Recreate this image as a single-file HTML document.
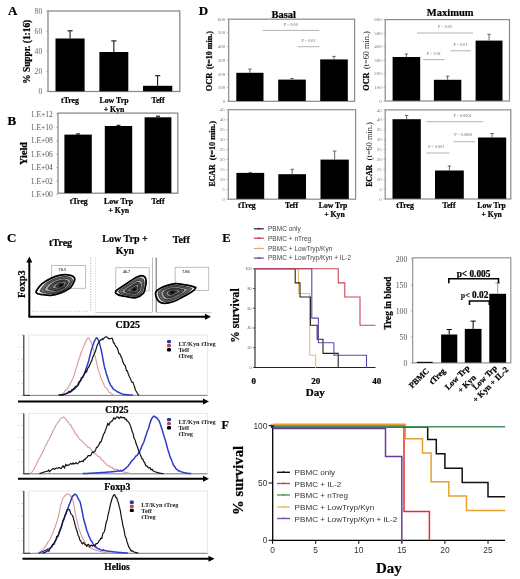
<!DOCTYPE html>
<html><head><meta charset="utf-8"><style>
html,body{margin:0;padding:0;background:#fff;}
svg{display:block;filter:blur(0.4px);}
</style></head><body>
<svg width="520" height="579" viewBox="0 0 520 579">
<rect x="0" y="0" width="520" height="579" fill="#fff"/>
<text x="12.7" y="15.4" font-size="13" text-anchor="middle" font-weight="bold" font-family='"Liberation Serif", serif' fill="#000" stroke="#000" stroke-width="0.22">A</text>
<rect x="48" y="11" width="131.8" height="80.5" fill="none" stroke="#8a8a8a" stroke-width="1.3"/>
<line x1="46.4" y1="11.0" x2="48" y2="11.0" stroke="#999" stroke-width="0.8"/>
<line x1="46.4" y1="31.1" x2="48" y2="31.1" stroke="#999" stroke-width="0.8"/>
<line x1="46.4" y1="51.2" x2="48" y2="51.2" stroke="#999" stroke-width="0.8"/>
<line x1="46.4" y1="71.30000000000001" x2="48" y2="71.30000000000001" stroke="#999" stroke-width="0.8"/>
<line x1="46.4" y1="91.4" x2="48" y2="91.4" stroke="#999" stroke-width="0.8"/>
<text x="42.2" y="13.5" font-size="7.6" text-anchor="end" font-weight="normal" font-family='"Liberation Serif", serif' fill="#666">80</text>
<text x="42.2" y="33.6" font-size="7.6" text-anchor="end" font-weight="normal" font-family='"Liberation Serif", serif' fill="#666">60</text>
<text x="42.2" y="53.7" font-size="7.6" text-anchor="end" font-weight="normal" font-family='"Liberation Serif", serif' fill="#666">40</text>
<text x="42.2" y="73.80000000000001" font-size="7.6" text-anchor="end" font-weight="normal" font-family='"Liberation Serif", serif' fill="#666">20</text>
<text x="42.2" y="93.9" font-size="7.6" text-anchor="end" font-weight="normal" font-family='"Liberation Serif", serif' fill="#666">0</text>
<text x="30.5" y="51.8" font-size="9.4" text-anchor="middle" font-weight="bold" font-family='"Liberation Serif", serif' fill="#000" stroke="#000" stroke-width="0.22" transform="rotate(-90 30.5 51.8)">% Suppr. (1:16)</text>
<rect x="55.5" y="38.5" width="29.099999999999994" height="52.8" fill="#000" stroke="none" stroke-width="0"/>
<line x1="70.05" y1="38.5" x2="70.05" y2="30.8" stroke="#000" stroke-width="1"/>
<line x1="67.45" y1="30.8" x2="72.64999999999999" y2="30.8" stroke="#000" stroke-width="1"/>
<rect x="99.4" y="52" width="28.900000000000006" height="39.3" fill="#000" stroke="none" stroke-width="0"/>
<line x1="113.85000000000001" y1="52" x2="113.85000000000001" y2="40.9" stroke="#000" stroke-width="1"/>
<line x1="111.25000000000001" y1="40.9" x2="116.45" y2="40.9" stroke="#000" stroke-width="1"/>
<rect x="143" y="85.8" width="29.30000000000001" height="5.5" fill="#000" stroke="none" stroke-width="0"/>
<line x1="157.65" y1="85.8" x2="157.65" y2="75.7" stroke="#000" stroke-width="1"/>
<line x1="155.05" y1="75.7" x2="160.25" y2="75.7" stroke="#000" stroke-width="1"/>
<text x="70" y="103.2" font-size="7.8" text-anchor="middle" font-weight="bold" font-family='"Liberation Serif", serif' fill="#000" stroke="#000" stroke-width="0.22">tTreg</text>
<text x="114" y="103.2" font-size="7.8" text-anchor="middle" font-weight="bold" font-family='"Liberation Serif", serif' fill="#000" stroke="#000" stroke-width="0.22">Low Trp</text>
<text x="114" y="111.7" font-size="7.8" text-anchor="middle" font-weight="bold" font-family='"Liberation Serif", serif' fill="#000" stroke="#000" stroke-width="0.22">+ Kyn</text>
<text x="158" y="103.2" font-size="7.8" text-anchor="middle" font-weight="bold" font-family='"Liberation Serif", serif' fill="#000" stroke="#000" stroke-width="0.22">Teff</text>
<text x="11.9" y="124.7" font-size="13" text-anchor="middle" font-weight="bold" font-family='"Liberation Serif", serif' fill="#000" stroke="#000" stroke-width="0.22">B</text>
<rect x="58" y="113.1" width="119.8" height="80.1" fill="none" stroke="#8a8a8a" stroke-width="1.3"/>
<line x1="56.3" y1="114.0" x2="58" y2="114.0" stroke="#999" stroke-width="0.8"/>
<line x1="56.3" y1="127.4" x2="58" y2="127.4" stroke="#999" stroke-width="0.8"/>
<line x1="56.3" y1="140.8" x2="58" y2="140.8" stroke="#999" stroke-width="0.8"/>
<line x1="56.3" y1="154.2" x2="58" y2="154.2" stroke="#999" stroke-width="0.8"/>
<line x1="56.3" y1="167.6" x2="58" y2="167.6" stroke="#999" stroke-width="0.8"/>
<line x1="56.3" y1="181.0" x2="58" y2="181.0" stroke="#999" stroke-width="0.8"/>
<line x1="56.3" y1="194.4" x2="58" y2="194.4" stroke="#999" stroke-width="0.8"/>
<text x="52.8" y="116.6" font-size="7.5" text-anchor="end" font-weight="normal" font-family='"Liberation Serif", serif' fill="#555">1.E+12</text>
<text x="52.8" y="130.0" font-size="7.5" text-anchor="end" font-weight="normal" font-family='"Liberation Serif", serif' fill="#555">1.E+10</text>
<text x="52.8" y="143.4" font-size="7.5" text-anchor="end" font-weight="normal" font-family='"Liberation Serif", serif' fill="#555">1.E+08</text>
<text x="52.8" y="156.79999999999998" font-size="7.5" text-anchor="end" font-weight="normal" font-family='"Liberation Serif", serif' fill="#555">1.E+06</text>
<text x="52.8" y="170.2" font-size="7.5" text-anchor="end" font-weight="normal" font-family='"Liberation Serif", serif' fill="#555">1.E+04</text>
<text x="52.8" y="183.6" font-size="7.5" text-anchor="end" font-weight="normal" font-family='"Liberation Serif", serif' fill="#555">1.E+02</text>
<text x="52.8" y="197.0" font-size="7.5" text-anchor="end" font-weight="normal" font-family='"Liberation Serif", serif' fill="#555">1.E+00</text>
<text x="27.2" y="153.5" font-size="10.2" text-anchor="middle" font-weight="bold" font-family='"Liberation Serif", serif' fill="#000" stroke="#000" stroke-width="0.22" transform="rotate(-90 27.2 153.5)">Yield</text>
<rect x="64.4" y="134.6" width="27.39999999999999" height="58.5" fill="#000" stroke="none" stroke-width="0"/>
<line x1="78.1" y1="134.6" x2="78.1" y2="133.9" stroke="#000" stroke-width="1"/>
<line x1="76.1" y1="133.9" x2="80.1" y2="133.9" stroke="#000" stroke-width="1"/>
<rect x="104.8" y="126" width="27.39999999999999" height="67.1" fill="#000" stroke="none" stroke-width="0"/>
<line x1="118.5" y1="126" x2="118.5" y2="125.3" stroke="#000" stroke-width="1"/>
<line x1="116.5" y1="125.3" x2="120.5" y2="125.3" stroke="#000" stroke-width="1"/>
<rect x="144.6" y="117.3" width="26.80000000000001" height="75.8" fill="#000" stroke="none" stroke-width="0"/>
<line x1="158.0" y1="117.3" x2="158.0" y2="116.2" stroke="#000" stroke-width="1"/>
<line x1="156.0" y1="116.2" x2="160.0" y2="116.2" stroke="#000" stroke-width="1"/>
<text x="78.8" y="204.2" font-size="7.8" text-anchor="middle" font-weight="bold" font-family='"Liberation Serif", serif' fill="#000" stroke="#000" stroke-width="0.22">tTreg</text>
<text x="118.5" y="204.2" font-size="7.8" text-anchor="middle" font-weight="bold" font-family='"Liberation Serif", serif' fill="#000" stroke="#000" stroke-width="0.22">Low Trp</text>
<text x="118.8" y="212.9" font-size="7.8" text-anchor="middle" font-weight="bold" font-family='"Liberation Serif", serif' fill="#000" stroke="#000" stroke-width="0.22">+ Kyn</text>
<text x="158" y="204.2" font-size="7.8" text-anchor="middle" font-weight="bold" font-family='"Liberation Serif", serif' fill="#000" stroke="#000" stroke-width="0.22">Teff</text>
<text x="11.6" y="242.4" font-size="13" text-anchor="middle" font-weight="bold" font-family='"Liberation Serif", serif' fill="#000" stroke="#000" stroke-width="0.22">C</text>
<text x="60.6" y="246.0" font-size="10" text-anchor="middle" font-weight="bold" font-family='"Liberation Serif", serif' fill="#000" stroke="#000" stroke-width="0.22">tTreg</text>
<text x="125" y="242.3" font-size="10" text-anchor="middle" font-weight="bold" font-family='"Liberation Serif", serif' fill="#000" stroke="#000" stroke-width="0.22">Low Trp +</text>
<text x="125" y="254.3" font-size="10" text-anchor="middle" font-weight="bold" font-family='"Liberation Serif", serif' fill="#000" stroke="#000" stroke-width="0.22">Kyn</text>
<text x="181.3" y="243" font-size="10" text-anchor="middle" font-weight="bold" font-family='"Liberation Serif", serif' fill="#000" stroke="#000" stroke-width="0.22">Teff</text>
<text x="25.0" y="284.2" font-size="10.4" text-anchor="middle" font-weight="bold" font-family='"Liberation Serif", serif' fill="#000" stroke="#000" stroke-width="0.22" transform="rotate(-90 25.0 284.2)">Foxp3</text>
<line x1="29.3" y1="317" x2="29.3" y2="260.5" stroke="#000" stroke-width="2"/>
<path d="M29.3,256.5 L26.3,262.5 L32.3,262.5 Z" fill="#000"/>
<line x1="28.5" y1="316.8" x2="207" y2="316.8" stroke="#000" stroke-width="2"/>
<path d="M211,316.8 L205,313.8 L205,319.8 Z" fill="#000"/>
<text x="127.8" y="328.4" font-size="10" text-anchor="middle" font-weight="bold" font-family='"Liberation Serif", serif' fill="#000" stroke="#000" stroke-width="0.22">CD25</text>
<line x1="90.7" y1="257.5" x2="90.7" y2="312" stroke="#aaa" stroke-width="0.8" stroke-dasharray="1.2 1.4"/>
<line x1="95.3" y1="257.5" x2="95.3" y2="312.5" stroke="#ccc" stroke-width="0.8" stroke-dasharray="1.2 1.4"/>
<line x1="152.5" y1="257.5" x2="152.5" y2="312.5" stroke="#aaa" stroke-width="0.8"/>
<line x1="156.2" y1="257.7" x2="156.2" y2="312.5" stroke="#666" stroke-width="1.0"/>
<line x1="32" y1="311.3" x2="89" y2="311.3" stroke="#bbb" stroke-width="0.8" stroke-dasharray="1.2 1.4"/>
<line x1="95.6" y1="312.5" x2="152" y2="312.5" stroke="#c8c8c8" stroke-width="0.9"/>
<line x1="156" y1="312.5" x2="211.5" y2="312.5" stroke="#c8c8c8" stroke-width="0.9"/>
<rect x="51.6" y="265.5" width="33.99999999999999" height="22.80000000000001" fill="none" stroke="#b8b8b8" stroke-width="0.9"/>
<text x="58.6" y="270.7" font-size="4.2" text-anchor="start" font-weight="bold" font-family='"Liberation Serif", serif' fill="#333">70.3</text>
<rect x="115.8" y="267.7" width="33.39999999999999" height="23.100000000000023" fill="none" stroke="#b8b8b8" stroke-width="0.9"/>
<text x="122.8" y="272.9" font-size="4.2" text-anchor="start" font-weight="bold" font-family='"Liberation Serif", serif' fill="#333">46.7</text>
<rect x="175.2" y="267.3" width="33.5" height="23.099999999999966" fill="none" stroke="#b8b8b8" stroke-width="0.9"/>
<text x="182.2" y="272.5" font-size="4.2" text-anchor="start" font-weight="bold" font-family='"Liberation Serif", serif' fill="#333">7.06</text>
<path d="M36.35,290.82 C37.20,289.28 39.42,286.00 41.86,283.93 C44.30,281.86 47.92,279.87 50.98,278.42 C54.03,276.97 57.44,275.84 60.20,275.24 C62.96,274.64 65.39,274.65 67.51,274.81 C69.63,274.97 71.70,275.43 72.92,276.19 C74.14,276.95 74.83,278.08 74.83,279.37 C74.83,280.66 73.84,282.39 72.92,283.93 C72.00,285.47 71.44,287.06 69.32,288.59 C67.20,290.13 63.26,292.02 60.20,293.15 C57.14,294.28 54.03,295.15 50.98,295.38 C47.92,295.61 44.23,294.90 41.86,294.53 C39.49,294.16 37.69,293.77 36.77,293.15 C35.86,292.53 35.50,292.36 36.35,290.82Z" fill="#efefef" stroke="#000" stroke-width="1.8"/>
<path d="M40.57,289.88 C41.28,288.60 43.13,285.88 45.15,284.16 C47.17,282.45 50.18,280.79 52.72,279.59 C55.25,278.38 58.08,277.45 60.37,276.95 C62.66,276.45 64.68,276.46 66.44,276.60 C68.20,276.73 69.92,277.11 70.93,277.74 C71.94,278.37 72.51,279.31 72.51,280.38 C72.51,281.45 71.69,282.89 70.93,284.16 C70.16,285.44 69.70,286.76 67.94,288.03 C66.18,289.31 62.91,290.88 60.37,291.82 C57.83,292.75 55.25,293.47 52.72,293.66 C50.18,293.85 47.11,293.27 45.15,292.96 C43.18,292.65 41.69,292.33 40.93,291.82 C40.16,291.30 39.87,291.16 40.57,289.88Z" fill="#6a6a6a" stroke="#111" stroke-width="0.8"/>
<path d="M44.55,289.00 C45.12,287.97 46.61,285.77 48.24,284.38 C49.88,283.00 52.30,281.66 54.35,280.69 C56.40,279.72 58.68,278.96 60.53,278.56 C62.38,278.15 64.01,278.17 65.43,278.27 C66.85,278.38 68.24,278.69 69.05,279.20 C69.87,279.71 70.33,280.46 70.33,281.33 C70.33,282.19 69.67,283.35 69.05,284.38 C68.44,285.41 68.06,286.48 66.64,287.51 C65.22,288.54 62.58,289.80 60.53,290.56 C58.48,291.32 56.40,291.90 54.35,292.05 C52.30,292.21 49.83,291.73 48.24,291.48 C46.66,291.23 45.45,290.97 44.83,290.56 C44.22,290.15 43.98,290.03 44.55,289.00Z" fill="#a8a8a8" stroke="#111" stroke-width="0.7"/>
<path d="M48.53,288.11 C48.96,287.33 50.09,285.65 51.34,284.60 C52.58,283.55 54.43,282.53 55.99,281.79 C57.55,281.05 59.28,280.47 60.69,280.17 C62.10,279.86 63.34,279.87 64.42,279.95 C65.50,280.03 66.56,280.27 67.18,280.65 C67.80,281.04 68.15,281.62 68.15,282.28 C68.15,282.93 67.65,283.82 67.18,284.60 C66.71,285.38 66.42,286.20 65.34,286.98 C64.26,287.76 62.25,288.73 60.69,289.30 C59.13,289.88 57.55,290.32 55.99,290.44 C54.43,290.56 52.54,290.20 51.34,290.01 C50.13,289.82 49.21,289.62 48.74,289.30 C48.27,288.99 48.09,288.90 48.53,288.11Z" fill="#505050" stroke="#000" stroke-width="0.7"/>
<path d="M52.25,287.29 C52.56,286.73 53.36,285.55 54.24,284.81 C55.12,284.06 56.42,283.34 57.52,282.82 C58.62,282.30 59.85,281.89 60.84,281.68 C61.83,281.46 62.71,281.47 63.47,281.52 C64.24,281.58 64.98,281.75 65.42,282.02 C65.86,282.29 66.11,282.70 66.11,283.17 C66.11,283.63 65.75,284.25 65.42,284.81 C65.09,285.36 64.88,285.93 64.12,286.49 C63.36,287.04 61.94,287.72 60.84,288.13 C59.74,288.53 58.62,288.84 57.52,288.93 C56.42,289.01 55.09,288.76 54.24,288.62 C53.39,288.49 52.74,288.35 52.41,288.13 C52.08,287.90 51.95,287.84 52.25,287.29Z" fill="#909090" stroke="#000" stroke-width="0.6"/>
<path d="M55.73,286.51 C55.92,286.18 56.41,285.45 56.95,285.00 C57.48,284.54 58.28,284.10 58.95,283.79 C59.62,283.47 60.37,283.22 60.98,283.09 C61.59,282.95 62.12,282.96 62.59,282.99 C63.06,283.03 63.51,283.13 63.78,283.30 C64.05,283.46 64.20,283.71 64.20,284.00 C64.20,284.28 63.98,284.66 63.78,285.00 C63.58,285.34 63.45,285.69 62.99,286.02 C62.52,286.36 61.65,286.78 60.98,287.03 C60.31,287.28 59.62,287.47 58.95,287.52 C58.28,287.57 57.47,287.41 56.95,287.33 C56.42,287.25 56.03,287.16 55.83,287.03 C55.62,286.89 55.55,286.85 55.73,286.51Z" fill="#3a3a3a" stroke="#000" stroke-width="0.6"/>
<path d="M58.96,285.80 C59.04,285.66 59.24,285.36 59.46,285.18 C59.68,284.99 60.00,284.81 60.28,284.68 C60.56,284.55 60.86,284.45 61.11,284.39 C61.36,284.34 61.58,284.34 61.77,284.36 C61.96,284.37 62.15,284.41 62.25,284.48 C62.36,284.55 62.43,284.65 62.43,284.77 C62.43,284.88 62.34,285.04 62.25,285.18 C62.17,285.31 62.12,285.46 61.93,285.60 C61.74,285.73 61.39,285.90 61.11,286.01 C60.83,286.11 60.56,286.19 60.28,286.21 C60.00,286.23 59.67,286.16 59.46,286.13 C59.25,286.10 59.08,286.06 59.00,286.01 C58.92,285.95 58.89,285.93 58.96,285.80Z" fill="#000" stroke="#000" stroke-width="0.5"/>
<path d="M115.83,291.24 C117.21,289.33 123.48,285.69 126.86,283.40 C130.23,281.10 133.64,278.77 136.08,277.46 C138.52,276.15 139.96,275.55 141.48,275.55 C143.00,275.55 144.42,276.38 145.19,277.46 C145.97,278.54 146.15,280.34 146.15,282.02 C146.15,283.70 145.65,285.69 145.19,287.53 C144.73,289.37 144.91,291.36 143.39,293.04 C141.87,294.72 138.83,297.00 136.08,297.60 C133.32,298.20 129.77,297.11 126.86,296.65 C123.94,296.19 120.43,295.75 118.59,294.85 C116.75,293.94 114.45,293.15 115.83,291.24Z" fill="#efefef" stroke="#000" stroke-width="1.8"/>
<path d="M119.01,290.95 C120.15,289.36 125.35,286.34 128.16,284.43 C130.96,282.53 133.79,280.59 135.81,279.51 C137.83,278.42 139.04,277.92 140.30,277.92 C141.56,277.92 142.73,278.61 143.38,279.51 C144.02,280.40 144.17,281.90 144.17,283.29 C144.17,284.68 143.76,286.34 143.38,287.87 C142.99,289.39 143.14,291.05 141.88,292.44 C140.62,293.83 138.10,295.73 135.81,296.22 C133.52,296.72 130.57,295.81 128.16,295.43 C125.74,295.05 122.82,294.68 121.29,293.94 C119.77,293.19 117.86,292.53 119.01,290.95Z" fill="#6a6a6a" stroke="#111" stroke-width="0.8"/>
<path d="M121.99,290.67 C122.92,289.39 127.12,286.95 129.38,285.41 C131.64,283.87 133.92,282.31 135.56,281.43 C137.19,280.56 138.16,280.16 139.18,280.16 C140.20,280.16 141.14,280.71 141.66,281.43 C142.19,282.16 142.30,283.36 142.30,284.49 C142.30,285.61 141.97,286.95 141.66,288.18 C141.36,289.41 141.48,290.75 140.46,291.87 C139.44,293.00 137.40,294.53 135.56,294.93 C133.71,295.33 131.33,294.60 129.38,294.29 C127.43,293.98 125.07,293.68 123.84,293.08 C122.61,292.48 121.07,291.94 121.99,290.67Z" fill="#a8a8a8" stroke="#111" stroke-width="0.7"/>
<path d="M124.98,290.39 C125.68,289.41 128.88,287.56 130.60,286.39 C132.32,285.22 134.06,284.03 135.30,283.36 C136.55,282.69 137.29,282.39 138.06,282.39 C138.84,282.39 139.56,282.81 139.95,283.36 C140.35,283.91 140.44,284.83 140.44,285.68 C140.44,286.54 140.19,287.56 139.95,288.50 C139.72,289.43 139.81,290.45 139.03,291.31 C138.26,292.16 136.71,293.33 135.30,293.63 C133.90,293.94 132.09,293.38 130.60,293.15 C129.11,292.91 127.32,292.69 126.38,292.23 C125.45,291.77 124.28,291.36 124.98,290.39Z" fill="#505050" stroke="#000" stroke-width="0.7"/>
<path d="M127.78,290.13 C128.28,289.44 130.53,288.13 131.75,287.30 C132.96,286.48 134.19,285.64 135.07,285.17 C135.95,284.70 136.47,284.48 137.01,284.48 C137.56,284.48 138.07,284.78 138.35,285.17 C138.63,285.55 138.69,286.20 138.69,286.81 C138.69,287.41 138.52,288.13 138.35,288.79 C138.18,289.45 138.25,290.17 137.70,290.78 C137.15,291.38 136.06,292.20 135.07,292.42 C134.08,292.63 132.80,292.24 131.75,292.07 C130.70,291.91 129.43,291.75 128.77,291.42 C128.11,291.10 127.28,290.81 127.78,290.13Z" fill="#909090" stroke="#000" stroke-width="0.6"/>
<path d="M130.39,289.88 C130.70,289.46 132.08,288.66 132.82,288.16 C133.56,287.65 134.31,287.14 134.85,286.85 C135.38,286.56 135.70,286.43 136.04,286.43 C136.37,286.43 136.68,286.61 136.85,286.85 C137.02,287.09 137.06,287.48 137.06,287.85 C137.06,288.22 136.95,288.66 136.85,289.07 C136.75,289.47 136.79,289.91 136.46,290.28 C136.12,290.65 135.45,291.15 134.85,291.28 C134.24,291.41 133.46,291.17 132.82,291.07 C132.18,290.97 131.40,290.87 131.00,290.68 C130.60,290.48 130.09,290.30 130.39,289.88Z" fill="#3a3a3a" stroke="#000" stroke-width="0.6"/>
<path d="M132.82,289.66 C132.94,289.48 133.51,289.16 133.81,288.95 C134.12,288.74 134.42,288.53 134.64,288.42 C134.86,288.30 134.99,288.24 135.13,288.24 C135.27,288.24 135.39,288.32 135.46,288.42 C135.53,288.51 135.55,288.68 135.55,288.83 C135.55,288.98 135.50,289.16 135.46,289.32 C135.42,289.49 135.44,289.67 135.30,289.82 C135.16,289.97 134.89,290.18 134.64,290.23 C134.39,290.28 134.07,290.18 133.81,290.14 C133.55,290.10 133.23,290.06 133.07,289.98 C132.90,289.90 132.70,289.83 132.82,289.66Z" fill="#000" stroke="#000" stroke-width="0.5"/>
<path d="M155.76,292.29 C156.38,290.91 157.69,289.80 159.90,288.58 C162.11,287.36 166.28,285.81 169.01,284.98 C171.75,284.15 173.57,283.60 176.33,283.60 C179.08,283.60 182.63,284.45 185.55,284.98 C188.46,285.51 192.14,286.25 193.82,286.78 C195.50,287.31 196.08,287.24 195.62,288.16 C195.16,289.08 193.20,290.84 191.06,292.29 C188.92,293.74 185.71,295.31 182.79,296.85 C179.88,298.39 176.63,300.44 173.57,301.51 C170.52,302.59 166.89,303.32 164.46,303.32 C162.02,303.32 160.32,302.59 158.94,301.51 C157.57,300.44 156.72,298.39 156.19,296.85 C155.66,295.31 155.15,293.67 155.76,292.29Z" fill="#efefef" stroke="#000" stroke-width="1.8"/>
<path d="M158.52,292.33 C159.04,291.18 160.12,290.26 161.95,289.25 C163.79,288.24 167.25,286.95 169.52,286.26 C171.79,285.57 173.30,285.11 175.59,285.11 C177.88,285.11 180.83,285.82 183.25,286.26 C185.67,286.70 188.72,287.31 190.11,287.75 C191.50,288.19 191.99,288.13 191.60,288.90 C191.22,289.66 189.60,291.12 187.82,292.33 C186.05,293.53 183.38,294.83 180.96,296.11 C178.54,297.39 175.84,299.09 173.30,299.98 C170.77,300.88 167.76,301.48 165.74,301.48 C163.71,301.48 162.31,300.88 161.16,299.98 C160.02,299.09 159.32,297.39 158.88,296.11 C158.44,294.83 158.01,293.47 158.52,292.33Z" fill="#6a6a6a" stroke="#111" stroke-width="0.8"/>
<path d="M161.12,292.36 C161.54,291.44 162.41,290.69 163.89,289.87 C165.37,289.06 168.16,288.02 170.00,287.46 C171.83,286.90 173.05,286.54 174.90,286.54 C176.75,286.54 179.13,287.10 181.08,287.46 C183.03,287.82 185.49,288.31 186.62,288.67 C187.74,289.02 188.13,288.98 187.82,289.59 C187.52,290.21 186.20,291.39 184.77,292.36 C183.34,293.33 181.18,294.38 179.23,295.41 C177.28,296.44 175.10,297.82 173.05,298.54 C171.01,299.26 168.58,299.75 166.95,299.75 C165.31,299.75 164.18,299.26 163.25,298.54 C162.33,297.82 161.76,296.44 161.41,295.41 C161.05,294.38 160.71,293.28 161.12,292.36Z" fill="#a8a8a8" stroke="#111" stroke-width="0.7"/>
<path d="M163.72,292.39 C164.03,291.69 164.70,291.12 165.83,290.50 C166.95,289.88 169.08,289.09 170.48,288.66 C171.87,288.24 172.80,287.96 174.21,287.96 C175.61,287.96 177.42,288.39 178.91,288.66 C180.40,288.93 182.27,289.31 183.13,289.58 C183.98,289.85 184.28,289.82 184.05,290.29 C183.81,290.75 182.81,291.65 181.72,292.39 C180.63,293.13 178.99,293.93 177.50,294.72 C176.02,295.50 174.36,296.55 172.80,297.10 C171.24,297.65 169.40,298.02 168.15,298.02 C166.91,298.02 166.04,297.65 165.34,297.10 C164.64,296.55 164.21,295.50 163.94,294.72 C163.67,293.93 163.40,293.10 163.72,292.39Z" fill="#505050" stroke="#000" stroke-width="0.7"/>
<path d="M166.15,292.43 C166.38,291.93 166.85,291.53 167.64,291.09 C168.44,290.65 169.94,290.09 170.92,289.79 C171.91,289.49 172.57,289.30 173.56,289.30 C174.55,289.30 175.83,289.60 176.88,289.79 C177.93,289.98 179.25,290.25 179.85,290.44 C180.46,290.63 180.67,290.61 180.50,290.94 C180.34,291.27 179.63,291.90 178.86,292.43 C178.09,292.95 176.94,293.51 175.89,294.07 C174.84,294.62 173.67,295.36 172.57,295.74 C171.47,296.13 170.16,296.39 169.28,296.39 C168.41,296.39 167.80,296.13 167.30,295.74 C166.80,295.36 166.50,294.62 166.31,294.07 C166.12,293.51 165.93,292.92 166.15,292.43Z" fill="#909090" stroke="#000" stroke-width="0.6"/>
<path d="M168.43,292.45 C168.56,292.15 168.85,291.91 169.34,291.64 C169.82,291.37 170.74,291.03 171.34,290.85 C171.95,290.66 172.35,290.54 172.95,290.54 C173.56,290.54 174.34,290.73 174.98,290.85 C175.62,290.96 176.43,291.12 176.80,291.24 C177.17,291.36 177.30,291.34 177.20,291.54 C177.10,291.75 176.66,292.14 176.19,292.45 C175.72,292.77 175.02,293.12 174.37,293.46 C173.73,293.80 173.02,294.25 172.35,294.48 C171.67,294.72 170.88,294.88 170.34,294.88 C169.80,294.88 169.43,294.72 169.13,294.48 C168.82,294.25 168.64,293.80 168.52,293.46 C168.40,293.12 168.29,292.76 168.43,292.45Z" fill="#3a3a3a" stroke="#000" stroke-width="0.6"/>
<path d="M170.54,292.48 C170.59,292.36 170.71,292.26 170.91,292.15 C171.11,292.04 171.48,291.90 171.73,291.82 C171.98,291.75 172.14,291.70 172.39,291.70 C172.64,291.70 172.96,291.78 173.22,291.82 C173.48,291.87 173.81,291.94 173.96,291.99 C174.11,292.03 174.17,292.03 174.13,292.11 C174.08,292.19 173.91,292.35 173.72,292.48 C173.52,292.61 173.23,292.75 172.97,292.89 C172.71,293.03 172.42,293.21 172.14,293.31 C171.87,293.41 171.54,293.47 171.32,293.47 C171.10,293.47 170.95,293.41 170.82,293.31 C170.70,293.21 170.62,293.03 170.58,292.89 C170.53,292.75 170.48,292.61 170.54,292.48Z" fill="#000" stroke="#000" stroke-width="0.5"/>
<rect x="28.3" y="335" width="179.2" height="60.39999999999998" fill="none" stroke="#e4e4e4" stroke-width="0.8"/>
<line x1="29.5" y1="335" x2="29.5" y2="395.4" stroke="#f0f0f0" stroke-width="0.6"/>
<line x1="23.8" y1="335" x2="23.8" y2="395.9" stroke="#333" stroke-width="1.2"/>
<line x1="21.6" y1="395.4" x2="23.8" y2="395.4" stroke="#888" stroke-width="0.6"/>
<line x1="17.6" y1="395.4" x2="19.6" y2="395.4" stroke="#ddd" stroke-width="0.8"/>
<line x1="21.6" y1="383.32" x2="23.8" y2="383.32" stroke="#888" stroke-width="0.6"/>
<line x1="17.6" y1="383.32" x2="19.6" y2="383.32" stroke="#ddd" stroke-width="0.8"/>
<line x1="21.6" y1="371.24" x2="23.8" y2="371.24" stroke="#888" stroke-width="0.6"/>
<line x1="17.6" y1="371.24" x2="19.6" y2="371.24" stroke="#ddd" stroke-width="0.8"/>
<line x1="21.6" y1="359.15999999999997" x2="23.8" y2="359.15999999999997" stroke="#888" stroke-width="0.6"/>
<line x1="17.6" y1="359.15999999999997" x2="19.6" y2="359.15999999999997" stroke="#ddd" stroke-width="0.8"/>
<line x1="21.6" y1="347.08" x2="23.8" y2="347.08" stroke="#888" stroke-width="0.6"/>
<line x1="17.6" y1="347.08" x2="19.6" y2="347.08" stroke="#ddd" stroke-width="0.8"/>
<line x1="21.6" y1="335.0" x2="23.8" y2="335.0" stroke="#888" stroke-width="0.6"/>
<line x1="17.6" y1="335.0" x2="19.6" y2="335.0" stroke="#ddd" stroke-width="0.8"/>
<line x1="23.8" y1="395.4" x2="207.5" y2="395.4" stroke="#7c7ca4" stroke-width="1"/>
<line x1="23.8" y1="395.4" x2="30" y2="395.4" stroke="#333" stroke-width="1"/>
<path d="M57.4,395.2 L58.0,395.2 L58.6,395.1 L59.2,395.0 L59.8,394.9 L60.4,394.7 L61.0,394.5 L61.6,394.2 L62.2,393.8 L62.8,393.4 L63.4,392.9 L64.0,392.8 L64.6,391.5 L65.2,390.5 L65.8,390.4 L66.4,389.7 L67.0,389.3 L67.6,388.4 L68.2,387.4 L68.8,386.5 L69.4,385.7 L70.0,384.8 L70.6,383.1 L71.2,381.5 L71.8,380.6 L72.4,379.7 L73.0,378.0 L73.6,376.6 L74.2,375.0 L74.8,372.9 L75.4,370.8 L76.0,368.7 L76.6,367.2 L77.2,365.0 L77.8,362.5 L78.4,360.9 L79.0,359.3 L79.6,357.7 L80.2,355.5 L80.8,353.2 L81.4,351.8 L82.0,350.8 L82.6,349.4 L83.2,347.7 L83.8,346.1 L84.4,344.7 L85.0,343.3 L85.6,342.0 L86.2,340.5 L86.8,339.2 L87.4,338.4 L88.0,338.0 L88.6,337.9 L89.2,338.7 L89.8,339.9 L90.4,341.0 L91.0,341.8 L91.6,343.2 L92.2,345.5 L92.8,347.7 L93.4,349.2 L94.0,351.4 L94.6,354.6 L95.2,356.7 L95.8,359.0 L96.4,361.8 L97.0,364.7 L97.6,367.3 L98.2,369.7 L98.8,371.4 L99.4,373.0 L100.0,374.9 L100.6,376.8 L101.2,378.7 L101.8,380.2 L102.4,381.3 L103.0,382.4 L103.6,383.8 L104.2,385.4 L104.8,386.8 L105.4,387.3 L106.0,387.8 L106.6,388.7 L107.2,389.4 L107.8,389.8 L108.4,390.7 L109.0,392.1 L109.6,392.6 L110.2,392.7 L110.8,393.2 L111.4,393.7 L112.0,394.1 L112.6,394.5 L113.2,394.9 L113.8,395.1 L114.4,395.3" stroke="#d49a9a" stroke-width="1.1" fill="none" stroke-linejoin="miter"/>
<path d="M58.6,395.2 L59.2,395.2 L59.8,395.1 L60.4,395.0 L61.0,395.0 L61.6,394.9 L62.2,394.8 L62.8,394.7 L63.4,394.6 L64.0,394.4 L64.6,394.3 L65.2,394.1 L65.8,393.8 L66.4,393.6 L67.0,393.3 L67.6,393.1 L68.2,392.8 L68.8,392.6 L69.4,392.3 L70.0,392.0 L70.6,391.8 L71.2,391.5 L71.8,391.1 L72.4,390.4 L73.0,389.4 L73.6,389.0 L74.2,389.2 L74.8,388.7 L75.4,388.1 L76.0,387.4 L76.6,386.5 L77.2,385.7 L77.8,385.3 L78.4,384.7 L79.0,383.4 L79.6,382.1 L80.2,381.1 L80.8,380.7 L81.4,379.7 L82.0,378.1 L82.6,377.2 L83.2,376.5 L83.8,375.1 L84.4,373.6 L85.0,372.1 L85.6,370.4 L86.2,368.6 L86.8,366.5 L87.4,364.8 L88.0,363.1 L88.6,361.3 L89.2,358.7 L89.8,356.0 L90.4,354.3 L91.0,351.6 L91.6,349.2 L92.2,347.5 L92.8,345.8 L93.4,343.9 L94.0,342.0 L94.6,340.8 L95.2,339.8 L95.8,338.6 L96.4,337.8 L97.0,337.9 L97.6,338.8 L98.2,339.7 L98.8,340.9 L99.4,343.1 L100.0,345.4 L100.6,347.4 L101.2,349.9 L101.8,352.9 L102.4,355.9 L103.0,359.4 L103.6,362.7 L104.2,365.7 L104.8,368.3 L105.4,369.9 L106.0,372.5 L106.6,374.6 L107.2,376.1 L107.8,377.9 L108.4,379.9 L109.0,381.6 L109.6,382.9 L110.2,384.4 L110.8,385.5 L111.4,386.1 L112.0,387.0 L112.6,388.0 L113.2,388.9 L113.8,389.4 L114.4,389.7 L115.0,389.9 L115.6,390.5 L116.2,390.9 L116.8,391.3 L117.4,392.0 L118.0,392.0 L118.6,392.2 L119.2,392.7 L119.8,393.0 L120.4,393.3 L121.0,393.5 L121.6,393.7 L122.2,393.9 L122.8,394.1 L123.4,394.3 L124.0,394.4 L124.6,394.5 L125.2,394.6 L125.8,394.6 L126.4,394.7 L127.0,394.7 L127.6,394.8 L128.2,394.8 L128.8,394.9 L129.4,394.9 L130.0,395.0 L130.6,395.0 L131.2,395.1 L131.8,395.1 L132.4,395.2 L133.0,395.2" stroke="#2d3cc8" stroke-width="1.5" fill="none" stroke-linejoin="miter"/>
<path d="M58.6,395.2 L59.2,395.2 L59.8,395.1 L60.4,395.0 L61.0,395.0 L61.6,394.9 L62.2,394.8 L62.8,394.7 L63.4,394.6 L64.0,394.4 L64.6,394.2 L65.2,394.0 L65.8,393.7 L66.4,393.5 L67.0,393.2 L67.6,392.9 L68.2,392.6 L68.8,391.3 L69.4,391.4 L70.0,392.0 L70.6,391.7 L71.2,391.0 L71.8,389.8 L72.4,390.0 L73.0,390.1 L73.6,388.8 L74.2,388.6 L74.8,387.3 L75.4,386.4 L76.0,386.7 L76.6,386.2 L77.2,386.1 L77.8,385.3 L78.4,383.0 L79.0,381.8 L79.6,381.7 L80.2,381.0 L80.8,379.4 L81.4,377.6 L82.0,377.4 L82.6,377.4 L83.2,376.2 L83.8,374.3 L84.4,374.2 L85.0,372.7 L85.6,370.8 L86.2,372.1 L86.8,371.2 L87.4,369.4 L88.0,367.8 L88.6,367.3 L89.2,366.1 L89.8,364.4 L90.4,363.8 L91.0,361.9 L91.6,360.9 L92.2,359.2 L92.8,356.9 L93.4,355.9 L94.0,354.4 L94.6,353.0 L95.2,352.0 L95.8,350.0 L96.4,347.8 L97.0,345.9 L97.6,344.3 L98.2,343.4 L98.8,342.3 L99.4,341.4 L100.0,340.9 L100.6,339.8 L101.2,339.8 L101.8,339.4 L102.4,338.7 L103.0,339.5 L103.6,338.8 L104.2,337.8 L104.8,337.4 L105.4,337.0 L106.0,336.9 L106.6,336.9 L107.2,337.3 L107.8,337.6 L108.4,338.6 L109.0,338.8 L109.6,338.6 L110.2,338.7 L110.8,338.5 L111.4,338.4 L112.0,338.2 L112.6,339.3 L113.2,341.7 L113.8,342.9 L114.4,343.1 L115.0,344.9 L115.6,346.2 L116.2,346.5 L116.8,347.4 L117.4,348.5 L118.0,350.1 L118.6,352.6 L119.2,353.9 L119.8,353.9 L120.4,355.0 L121.0,356.7 L121.6,357.6 L122.2,359.1 L122.8,361.6 L123.4,363.0 L124.0,364.4 L124.6,365.0 L125.2,365.4 L125.8,367.9 L126.4,370.5 L127.0,370.6 L127.6,371.6 L128.2,373.7 L128.8,375.3 L129.4,376.8 L130.0,377.7 L130.6,379.1 L131.2,380.8 L131.8,382.0 L132.4,382.4 L133.0,382.4 L133.6,384.1 L134.2,385.9 L134.8,387.5 L135.4,389.7 L136.0,391.0 L136.6,391.8 L137.2,393.0 L137.8,394.1 L138.4,394.8 L139.0,395.3" stroke="#111" stroke-width="1.2" fill="none" stroke-linejoin="miter"/>
<rect x="167.0" y="339.9" width="4.0" height="3.3" fill="#2830b0" stroke="none" stroke-width="0" rx="1.2"/>
<rect x="167.0" y="344.0" width="4.0" height="3.3" fill="#b04a58" stroke="none" stroke-width="0" rx="1.2"/>
<rect x="167.0" y="348.09999999999997" width="4.0" height="3.3" fill="#000" stroke="none" stroke-width="0" rx="1.2"/>
<text x="178.5" y="346.2" font-size="6.3" text-anchor="start" font-weight="bold" font-family='"Liberation Serif", serif' fill="#222">LT/Kyn tTreg</text>
<text x="178.5" y="352.0" font-size="6.3" text-anchor="start" font-weight="bold" font-family='"Liberation Serif", serif' fill="#222">Teff</text>
<text x="178.5" y="358.3" font-size="6.3" text-anchor="start" font-weight="bold" font-family='"Liberation Serif", serif' fill="#222">tTreg</text>
<line x1="18" y1="401.4" x2="205" y2="401.4" stroke="#000" stroke-width="2"/>
<path d="M209,401.4 L203,398.4 L203,404.4 Z" fill="#000"/>
<text x="116.9" y="413.2" font-size="9.5" text-anchor="middle" font-weight="bold" font-family='"Liberation Serif", serif' fill="#000" stroke="#000" stroke-width="0.22">CD25</text>
<rect x="28.3" y="413.5" width="179.2" height="60.30000000000001" fill="none" stroke="#e4e4e4" stroke-width="0.8"/>
<line x1="29.5" y1="413.5" x2="29.5" y2="473.8" stroke="#f0f0f0" stroke-width="0.6"/>
<line x1="23.8" y1="413.5" x2="23.8" y2="474.3" stroke="#333" stroke-width="1.2"/>
<line x1="21.6" y1="473.8" x2="23.8" y2="473.8" stroke="#888" stroke-width="0.6"/>
<line x1="17.6" y1="473.8" x2="19.6" y2="473.8" stroke="#ddd" stroke-width="0.8"/>
<line x1="21.6" y1="461.74" x2="23.8" y2="461.74" stroke="#888" stroke-width="0.6"/>
<line x1="17.6" y1="461.74" x2="19.6" y2="461.74" stroke="#ddd" stroke-width="0.8"/>
<line x1="21.6" y1="449.68" x2="23.8" y2="449.68" stroke="#888" stroke-width="0.6"/>
<line x1="17.6" y1="449.68" x2="19.6" y2="449.68" stroke="#ddd" stroke-width="0.8"/>
<line x1="21.6" y1="437.62" x2="23.8" y2="437.62" stroke="#888" stroke-width="0.6"/>
<line x1="17.6" y1="437.62" x2="19.6" y2="437.62" stroke="#ddd" stroke-width="0.8"/>
<line x1="21.6" y1="425.56" x2="23.8" y2="425.56" stroke="#888" stroke-width="0.6"/>
<line x1="17.6" y1="425.56" x2="19.6" y2="425.56" stroke="#ddd" stroke-width="0.8"/>
<line x1="21.6" y1="413.5" x2="23.8" y2="413.5" stroke="#888" stroke-width="0.6"/>
<line x1="17.6" y1="413.5" x2="19.6" y2="413.5" stroke="#ddd" stroke-width="0.8"/>
<line x1="23.8" y1="473.8" x2="207.5" y2="473.8" stroke="#7c7ca4" stroke-width="1"/>
<line x1="23.8" y1="473.8" x2="30" y2="473.8" stroke="#333" stroke-width="1"/>
<path d="M29.8,473.6 L30.4,473.3 L31.0,472.8 L31.6,472.2 L32.2,471.5 L32.8,470.7 L33.4,470.0 L34.0,469.3 L34.6,467.5 L35.2,466.6 L35.8,465.8 L36.4,464.3 L37.0,462.9 L37.6,461.5 L38.2,460.5 L38.8,459.3 L39.4,458.4 L40.0,457.4 L40.6,455.9 L41.2,454.6 L41.8,453.9 L42.4,452.9 L43.0,451.4 L43.6,450.0 L44.2,448.8 L44.8,447.4 L45.4,445.9 L46.0,445.2 L46.6,444.1 L47.2,442.6 L47.8,441.2 L48.4,440.3 L49.0,439.6 L49.6,438.1 L50.2,436.7 L50.8,435.4 L51.4,434.5 L52.0,433.6 L52.6,431.8 L53.2,430.7 L53.8,429.8 L54.4,428.4 L55.0,427.3 L55.6,426.0 L56.2,424.7 L56.8,424.0 L57.4,423.2 L58.0,422.0 L58.6,421.7 L59.2,421.0 L59.8,419.6 L60.4,418.7 L61.0,418.2 L61.6,418.0 L62.2,417.6 L62.8,417.4 L63.4,417.0 L64.0,417.1 L64.6,417.8 L65.2,418.4 L65.8,419.3 L66.4,419.5 L67.0,420.8 L67.6,421.7 L68.2,421.8 L68.8,423.0 L69.4,424.0 L70.0,424.7 L70.6,424.8 L71.2,425.5 L71.8,427.3 L72.4,428.4 L73.0,429.0 L73.6,429.7 L74.2,431.2 L74.8,432.8 L75.4,433.3 L76.0,434.1 L76.6,435.1 L77.2,435.7 L77.8,436.4 L78.4,437.4 L79.0,438.3 L79.6,439.2 L80.2,439.7 L80.8,440.0 L81.4,440.7 L82.0,441.2 L82.6,441.5 L83.2,442.5 L83.8,443.2 L84.4,443.6 L85.0,444.4 L85.6,444.7 L86.2,445.2 L86.8,446.1 L87.4,446.5 L88.0,447.0 L88.6,447.4 L89.2,447.4 L89.8,448.0 L90.4,448.8 L91.0,449.6 L91.6,450.4 L92.2,450.7 L92.8,451.2 L93.4,452.2 L94.0,453.0 L94.6,453.3 L95.2,453.7 L95.8,454.1 L96.4,454.6 L97.0,455.3 L97.6,455.9 L98.2,456.3 L98.8,456.7 L99.4,456.8 L100.0,457.2 L100.6,458.0 L101.2,459.3 L101.8,460.2 L102.4,460.3 L103.0,460.3 L103.6,461.3 L104.2,462.3 L104.8,462.4 L105.4,463.1 L106.0,464.0 L106.6,464.6 L107.2,465.2 L107.8,465.5 L108.4,466.0 L109.0,466.0 L109.6,466.2 L110.2,466.6 L110.8,467.2 L111.4,467.4 L112.0,467.2 L112.6,467.9 L113.2,468.8 L113.8,469.2 L114.4,469.5 L115.0,469.1 L115.6,469.0 L116.2,469.4 L116.8,469.8 L117.4,469.6 L118.0,469.8 L118.6,470.6 L119.2,470.6 L119.8,470.7 L120.4,471.0 L121.0,471.2 L121.6,471.4 L122.2,471.5 L122.8,471.7 L123.4,471.9 L124.0,472.0 L124.6,472.2 L125.2,472.3 L125.8,472.5 L126.4,472.6 L127.0,472.8 L127.6,472.9 L128.2,473.0 L128.8,473.1 L129.4,473.3 L130.0,473.4 L130.6,473.5 L131.2,473.5 L131.8,473.6" stroke="#d49a9a" stroke-width="1.1" fill="none" stroke-linejoin="miter"/>
<path d="M82.6,473.6 L83.2,473.6 L83.8,473.5 L84.4,473.5 L85.0,473.5 L85.6,473.5 L86.2,473.4 L86.8,473.4 L87.4,473.4 L88.0,473.3 L88.6,473.3 L89.2,473.3 L89.8,473.3 L90.4,473.2 L91.0,473.2 L91.6,473.2 L92.2,473.1 L92.8,473.1 L93.4,473.0 L94.0,473.0 L94.6,473.0 L95.2,472.9 L95.8,472.9 L96.4,472.9 L97.0,472.8 L97.6,472.8 L98.2,472.8 L98.8,472.7 L99.4,472.7 L100.0,472.7 L100.6,472.6 L101.2,472.6 L101.8,472.5 L102.4,472.5 L103.0,472.5 L103.6,472.4 L104.2,472.4 L104.8,472.4 L105.4,472.3 L106.0,472.3 L106.6,472.2 L107.2,472.2 L107.8,472.1 L108.4,472.1 L109.0,472.1 L109.6,472.0 L110.2,472.0 L110.8,471.9 L111.4,471.8 L112.0,471.8 L112.6,471.7 L113.2,471.7 L113.8,471.6 L114.4,471.5 L115.0,471.4 L115.6,471.4 L116.2,471.3 L116.8,471.2 L117.4,471.1 L118.0,471.0 L118.6,470.8 L119.2,471.1 L119.8,470.9 L120.4,470.5 L121.0,471.0 L121.6,471.0 L122.2,470.4 L122.8,470.3 L123.4,470.1 L124.0,469.7 L124.6,469.5 L125.2,468.5 L125.8,468.3 L126.4,468.0 L127.0,466.9 L127.6,466.6 L128.2,466.1 L128.8,465.0 L129.4,464.3 L130.0,463.5 L130.6,462.5 L131.2,461.6 L131.8,460.8 L132.4,460.4 L133.0,459.8 L133.6,459.1 L134.2,458.5 L134.8,457.7 L135.4,456.7 L136.0,456.0 L136.6,455.8 L137.2,455.2 L137.8,454.1 L138.4,453.3 L139.0,452.4 L139.6,451.5 L140.2,450.3 L140.8,448.9 L141.4,447.4 L142.0,445.8 L142.6,444.6 L143.2,443.5 L143.8,442.1 L144.4,440.3 L145.0,438.2 L145.6,436.6 L146.2,435.1 L146.8,432.8 L147.4,431.0 L148.0,429.7 L148.6,428.2 L149.2,426.0 L149.8,423.4 L150.4,422.1 L151.0,420.3 L151.6,418.7 L152.2,418.0 L152.8,417.1 L153.4,416.3 L154.0,416.1 L154.6,416.7 L155.2,417.0 L155.8,417.3 L156.4,417.5 L157.0,418.3 L157.6,419.1 L158.2,419.8 L158.8,420.4 L159.4,421.6 L160.0,423.3 L160.6,425.0 L161.2,427.1 L161.8,428.6 L162.4,430.3 L163.0,432.7 L163.6,434.7 L164.2,436.7 L164.8,438.5 L165.4,440.4 L166.0,442.5 L166.6,444.7 L167.2,447.3 L167.8,449.4 L168.4,451.2 L169.0,453.0 L169.6,455.1 L170.2,457.2 L170.8,458.4 L171.4,459.6 L172.0,461.3 L172.6,462.7 L173.2,464.4 L173.8,465.7 L174.4,466.2 L175.0,466.9 L175.6,468.3 L176.2,468.8 L176.8,469.1 L177.4,469.9 L178.0,470.5 L178.6,470.9 L179.2,470.8 L179.8,471.1 L180.4,471.4 L181.0,471.7 L181.6,471.9 L182.2,472.1 L182.8,472.3 L183.4,472.5 L184.0,472.6 L184.6,472.7 L185.2,472.9 L185.8,473.0 L186.4,473.1 L187.0,473.2 L187.6,473.3 L188.2,473.4 L188.8,473.4 L189.4,473.5 L190.0,473.5 L190.6,473.5 L191.2,473.6" stroke="#2d3cc8" stroke-width="1.5" fill="none" stroke-linejoin="miter"/>
<path d="M39.4,473.6 L40.0,473.4 L40.6,473.3 L41.2,473.1 L41.8,472.9 L42.4,472.7 L43.0,472.4 L43.6,472.2 L44.2,472.0 L44.8,471.8 L45.4,471.7 L46.0,471.5 L46.6,471.4 L47.2,471.2 L47.8,471.0 L48.4,470.1 L49.0,470.8 L49.6,471.7 L50.2,470.8 L50.8,470.3 L51.4,469.9 L52.0,469.2 L52.6,469.1 L53.2,468.4 L53.8,468.7 L54.4,469.3 L55.0,468.9 L55.6,468.5 L56.2,468.1 L56.8,468.1 L57.4,468.1 L58.0,468.1 L58.6,467.7 L59.2,467.5 L59.8,468.1 L60.4,468.4 L61.0,468.5 L61.6,467.9 L62.2,466.9 L62.8,465.9 L63.4,466.0 L64.0,467.3 L64.6,467.9 L65.2,465.9 L65.8,464.6 L66.4,465.4 L67.0,465.1 L67.6,465.2 L68.2,465.5 L68.8,465.0 L69.4,464.8 L70.0,464.1 L70.6,463.5 L71.2,463.7 L71.8,464.3 L72.4,463.8 L73.0,463.1 L73.6,464.0 L74.2,463.8 L74.8,463.6 L75.4,463.1 L76.0,462.8 L76.6,463.2 L77.2,463.8 L77.8,463.5 L78.4,462.9 L79.0,462.3 L79.6,461.4 L80.2,461.9 L80.8,461.8 L81.4,461.4 L82.0,461.2 L82.6,461.2 L83.2,461.6 L83.8,460.0 L84.4,459.4 L85.0,459.6 L85.6,458.6 L86.2,458.0 L86.8,457.7 L87.4,456.9 L88.0,455.8 L88.6,455.6 L89.2,455.6 L89.8,455.9 L90.4,455.6 L91.0,454.9 L91.6,453.8 L92.2,452.3 L92.8,452.2 L93.4,452.5 L94.0,451.9 L94.6,451.8 L95.2,450.9 L95.8,449.4 L96.4,447.6 L97.0,447.1 L97.6,447.2 L98.2,445.7 L98.8,444.9 L99.4,443.7 L100.0,442.2 L100.6,442.3 L101.2,441.4 L101.8,439.4 L102.4,437.7 L103.0,436.0 L103.6,434.1 L104.2,433.4 L104.8,432.0 L105.4,430.1 L106.0,428.8 L106.6,427.2 L107.2,425.1 L107.8,423.4 L108.4,424.3 L109.0,425.0 L109.6,423.4 L110.2,422.1 L110.8,422.0 L111.4,421.1 L112.0,421.1 L112.6,420.6 L113.2,419.1 L113.8,417.8 L114.4,418.3 L115.0,419.1 L115.6,418.6 L116.2,417.7 L116.8,416.9 L117.4,417.2 L118.0,417.0 L118.6,417.7 L119.2,418.6 L119.8,418.2 L120.4,417.0 L121.0,416.8 L121.6,417.7 L122.2,417.7 L122.8,417.6 L123.4,417.8 L124.0,417.5 L124.6,417.7 L125.2,419.4 L125.8,419.4 L126.4,419.4 L127.0,420.9 L127.6,421.1 L128.2,421.6 L128.8,422.5 L129.4,423.4 L130.0,424.8 L130.6,426.1 L131.2,428.1 L131.8,430.2 L132.4,432.2 L133.0,433.2 L133.6,436.0 L134.2,438.8 L134.8,439.4 L135.4,440.9 L136.0,443.3 L136.6,444.9 L137.2,446.2 L137.8,448.1 L138.4,450.1 L139.0,451.5 L139.6,452.8 L140.2,454.7 L140.8,455.8 L141.4,457.5 L142.0,458.8 L142.6,458.8 L143.2,460.0 L143.8,461.6 L144.4,462.4 L145.0,463.3 L145.6,465.2 L146.2,466.0 L146.8,465.8 L147.4,466.3 L148.0,467.3 L148.6,467.9 L149.2,467.5 L149.8,467.5 L150.4,468.6 L151.0,469.9 L151.6,469.4 L152.2,469.2 L152.8,470.6 L153.4,471.0 L154.0,471.3 L154.6,471.6 L155.2,471.8 L155.8,472.0 L156.4,472.2 L157.0,472.4 L157.6,472.6 L158.2,472.8 L158.8,472.9 L159.4,473.1 L160.0,473.2 L160.6,473.3 L161.2,473.4 L161.8,473.5 L162.4,473.5 L163.0,473.6 L163.6,473.6" stroke="#111" stroke-width="1.2" fill="none" stroke-linejoin="miter"/>
<rect x="167.0" y="417.9" width="4.0" height="3.3" fill="#2830b0" stroke="none" stroke-width="0" rx="1.2"/>
<rect x="167.0" y="422.0" width="4.0" height="3.3" fill="#b04a58" stroke="none" stroke-width="0" rx="1.2"/>
<rect x="167.0" y="426.09999999999997" width="4.0" height="3.3" fill="#000" stroke="none" stroke-width="0" rx="1.2"/>
<text x="178.5" y="424.2" font-size="6.3" text-anchor="start" font-weight="bold" font-family='"Liberation Serif", serif' fill="#222">LT/Kyn tTreg</text>
<text x="178.5" y="430.0" font-size="6.3" text-anchor="start" font-weight="bold" font-family='"Liberation Serif", serif' fill="#222">Teff</text>
<text x="178.5" y="436.3" font-size="6.3" text-anchor="start" font-weight="bold" font-family='"Liberation Serif", serif' fill="#222">tTreg</text>
<line x1="18" y1="478.7" x2="205" y2="478.7" stroke="#000" stroke-width="2"/>
<path d="M209,478.7 L203,475.7 L203,481.7 Z" fill="#000"/>
<text x="117.4" y="489.5" font-size="9.8" text-anchor="middle" font-weight="bold" font-family='"Liberation Serif", serif' fill="#000" stroke="#000" stroke-width="0.22">Foxp3</text>
<rect x="28.3" y="491" width="179.2" height="62.299999999999955" fill="none" stroke="#e4e4e4" stroke-width="0.8"/>
<line x1="29.5" y1="491" x2="29.5" y2="553.3" stroke="#f0f0f0" stroke-width="0.6"/>
<line x1="23.8" y1="491" x2="23.8" y2="553.8" stroke="#333" stroke-width="1.2"/>
<line x1="21.6" y1="553.3" x2="23.8" y2="553.3" stroke="#888" stroke-width="0.6"/>
<line x1="17.6" y1="553.3" x2="19.6" y2="553.3" stroke="#ddd" stroke-width="0.8"/>
<line x1="21.6" y1="540.8399999999999" x2="23.8" y2="540.8399999999999" stroke="#888" stroke-width="0.6"/>
<line x1="17.6" y1="540.8399999999999" x2="19.6" y2="540.8399999999999" stroke="#ddd" stroke-width="0.8"/>
<line x1="21.6" y1="528.38" x2="23.8" y2="528.38" stroke="#888" stroke-width="0.6"/>
<line x1="17.6" y1="528.38" x2="19.6" y2="528.38" stroke="#ddd" stroke-width="0.8"/>
<line x1="21.6" y1="515.92" x2="23.8" y2="515.92" stroke="#888" stroke-width="0.6"/>
<line x1="17.6" y1="515.92" x2="19.6" y2="515.92" stroke="#ddd" stroke-width="0.8"/>
<line x1="21.6" y1="503.46" x2="23.8" y2="503.46" stroke="#888" stroke-width="0.6"/>
<line x1="17.6" y1="503.46" x2="19.6" y2="503.46" stroke="#ddd" stroke-width="0.8"/>
<line x1="21.6" y1="491.0" x2="23.8" y2="491.0" stroke="#888" stroke-width="0.6"/>
<line x1="17.6" y1="491.0" x2="19.6" y2="491.0" stroke="#ddd" stroke-width="0.8"/>
<line x1="23.8" y1="553.3" x2="207.5" y2="553.3" stroke="#7c7ca4" stroke-width="1"/>
<line x1="23.8" y1="553.3" x2="30" y2="553.3" stroke="#333" stroke-width="1"/>
<path d="M37.0,553.2 L37.6,553.0 L38.2,552.8 L38.8,552.5 L39.4,552.2 L40.0,551.8 L40.6,551.5 L41.2,551.1 L41.8,550.7 L42.4,550.3 L43.0,549.9 L43.6,548.7 L44.2,547.8 L44.8,546.9 L45.4,546.5 L46.0,545.5 L46.6,544.4 L47.2,543.6 L47.8,542.3 L48.4,541.3 L49.0,540.8 L49.6,540.0 L50.2,539.3 L50.8,537.9 L51.4,535.7 L52.0,534.8 L52.6,533.7 L53.2,532.0 L53.8,529.9 L54.4,528.7 L55.0,527.6 L55.6,525.6 L56.2,523.6 L56.8,521.9 L57.4,520.0 L58.0,517.8 L58.6,515.4 L59.2,512.9 L59.8,510.0 L60.4,506.7 L61.0,504.4 L61.6,502.1 L62.2,499.9 L62.8,498.5 L63.4,497.8 L64.0,496.8 L64.6,495.9 L65.2,495.8 L65.8,495.3 L66.4,494.3 L67.0,493.8 L67.6,494.1 L68.2,494.3 L68.8,494.2 L69.4,494.7 L70.0,495.4 L70.6,496.4 L71.2,497.0 L71.8,497.9 L72.4,498.9 L73.0,500.3 L73.6,503.4 L74.2,506.8 L74.8,510.5 L75.4,514.0 L76.0,516.7 L76.6,519.5 L77.2,522.0 L77.8,524.1 L78.4,526.9 L79.0,529.0 L79.6,530.6 L80.2,532.2 L80.8,534.0 L81.4,535.7 L82.0,536.7 L82.6,538.0 L83.2,539.3 L83.8,540.4 L84.4,541.5 L85.0,542.6 L85.6,543.8 L86.2,544.3 L86.8,544.7 L87.4,545.4 L88.0,546.3 L88.6,546.9 L89.2,547.1 L89.8,547.4 L90.4,548.1 L91.0,548.0 L91.6,548.1 L92.2,548.6 L92.8,549.1 L93.4,549.4 L94.0,549.3 L94.6,549.4 L95.2,549.7 L95.8,550.3 L96.4,550.4 L97.0,550.6 L97.6,550.7 L98.2,550.9 L98.8,551.1 L99.4,551.2 L100.0,551.4 L100.6,551.5 L101.2,551.6 L101.8,551.8 L102.4,551.9 L103.0,552.0 L103.6,552.1 L104.2,552.3 L104.8,552.4 L105.4,552.5 L106.0,552.6 L106.6,552.7 L107.2,552.8 L107.8,552.9 L108.4,553.0 L109.0,553.1" stroke="#d49a9a" stroke-width="1.1" fill="none" stroke-linejoin="miter"/>
<path d="M38.8,553.2 L39.4,553.0 L40.0,552.8 L40.6,552.5 L41.2,552.2 L41.8,551.9 L42.4,551.6 L43.0,551.4 L43.6,551.1 L44.2,550.9 L44.8,550.6 L45.4,550.4 L46.0,550.0 L46.6,549.6 L47.2,549.5 L47.8,549.0 L48.4,549.1 L49.0,549.0 L49.6,548.5 L50.2,548.0 L50.8,547.6 L51.4,547.4 L52.0,546.6 L52.6,545.3 L53.2,544.7 L53.8,544.3 L54.4,543.1 L55.0,541.9 L55.6,540.7 L56.2,539.5 L56.8,538.0 L57.4,536.7 L58.0,535.7 L58.6,534.2 L59.2,532.4 L59.8,531.3 L60.4,530.0 L61.0,527.8 L61.6,525.8 L62.2,523.6 L62.8,521.6 L63.4,520.5 L64.0,519.4 L64.6,517.3 L65.2,515.1 L65.8,514.3 L66.4,512.8 L67.0,510.8 L67.6,509.2 L68.2,507.5 L68.8,505.7 L69.4,504.4 L70.0,503.1 L70.6,501.1 L71.2,499.6 L71.8,498.0 L72.4,496.1 L73.0,496.1 L73.6,495.3 L74.2,494.4 L74.8,494.3 L75.4,494.3 L76.0,494.8 L76.6,495.4 L77.2,496.5 L77.8,497.9 L78.4,498.9 L79.0,499.9 L79.6,500.8 L80.2,502.2 L80.8,504.8 L81.4,507.6 L82.0,510.6 L82.6,513.4 L83.2,516.9 L83.8,519.8 L84.4,521.8 L85.0,523.7 L85.6,525.8 L86.2,528.2 L86.8,530.4 L87.4,532.0 L88.0,533.5 L88.6,535.3 L89.2,536.6 L89.8,538.0 L90.4,539.5 L91.0,540.5 L91.6,541.2 L92.2,541.9 L92.8,543.3 L93.4,544.5 L94.0,545.3 L94.6,546.2 L95.2,547.0 L95.8,547.3 L96.4,547.2 L97.0,547.9 L97.6,548.6 L98.2,548.7 L98.8,548.8 L99.4,548.9 L100.0,549.5 L100.6,549.7 L101.2,550.0 L101.8,550.1 L102.4,550.4 L103.0,550.2 L103.6,549.8 L104.2,550.4 L104.8,550.6 L105.4,550.7 L106.0,550.8 L106.6,550.9 L107.2,551.0 L107.8,551.1 L108.4,551.2 L109.0,551.3 L109.6,551.4 L110.2,551.5 L110.8,551.5 L111.4,551.6 L112.0,551.7 L112.6,551.8 L113.2,551.8 L113.8,551.9 L114.4,552.0 L115.0,552.0 L115.6,552.1 L116.2,552.1 L116.8,552.2 L117.4,552.2 L118.0,552.3 L118.6,552.4 L119.2,552.4 L119.8,552.5 L120.4,552.5 L121.0,552.6 L121.6,552.6 L122.2,552.7 L122.8,552.7 L123.4,552.7 L124.0,552.8 L124.6,552.8 L125.2,552.9 L125.8,552.9 L126.4,553.0 L127.0,553.0 L127.6,553.0 L128.2,553.1" stroke="#2d3cc8" stroke-width="1.5" fill="none" stroke-linejoin="miter"/>
<path d="M42.4,553.1 L43.0,553.0 L43.6,552.8 L44.2,552.6 L44.8,552.4 L45.4,552.1 L46.0,551.8 L46.6,551.5 L47.2,551.0 L47.8,550.6 L48.4,551.1 L49.0,551.1 L49.6,549.5 L50.2,548.1 L50.8,547.7 L51.4,546.6 L52.0,545.6 L52.6,544.3 L53.2,543.9 L53.8,544.0 L54.4,542.4 L55.0,541.3 L55.6,540.4 L56.2,538.5 L56.8,536.4 L57.4,536.1 L58.0,536.3 L58.6,534.3 L59.2,532.2 L59.8,530.1 L60.4,528.8 L61.0,527.7 L61.6,525.9 L62.2,524.3 L62.8,521.7 L63.4,519.3 L64.0,518.5 L64.6,516.7 L65.2,514.7 L65.8,514.0 L66.4,511.5 L67.0,510.0 L67.6,509.7 L68.2,509.4 L68.8,509.3 L69.4,509.7 L70.0,511.0 L70.6,512.9 L71.2,514.3 L71.8,514.9 L72.4,515.3 L73.0,516.8 L73.6,519.1 L74.2,521.1 L74.8,523.7 L75.4,526.2 L76.0,528.2 L76.6,529.9 L77.2,531.6 L77.8,534.1 L78.4,535.7 L79.0,536.8 L79.6,539.4 L80.2,540.5 L80.8,541.1 L81.4,542.3 L82.0,543.4 L82.6,543.9 L83.2,542.7 L83.8,542.6 L84.4,543.8 L85.0,544.5 L85.6,544.8 L86.2,545.6 L86.8,546.2 L87.4,545.1 L88.0,544.5 L88.6,544.4 L89.2,545.6 L89.8,546.7 L90.4,545.9 L91.0,545.3 L91.6,545.2 L92.2,546.0 L92.8,545.9 L93.4,545.4 L94.0,545.1 L94.6,546.0 L95.2,545.8 L95.8,544.0 L96.4,543.6 L97.0,543.6 L97.6,543.2 L98.2,542.5 L98.8,541.2 L99.4,540.3 L100.0,540.0 L100.6,538.4 L101.2,538.1 L101.8,538.4 L102.4,535.4 L103.0,533.1 L103.6,532.7 L104.2,531.7 L104.8,530.1 L105.4,526.6 L106.0,523.2 L106.6,521.5 L107.2,519.7 L107.8,516.5 L108.4,513.5 L109.0,511.2 L109.6,508.5 L110.2,505.3 L110.8,502.9 L111.4,501.3 L112.0,498.7 L112.6,497.3 L113.2,495.8 L113.8,494.9 L114.4,494.6 L115.0,495.1 L115.6,497.1 L116.2,497.2 L116.8,498.1 L117.4,500.4 L118.0,501.7 L118.6,503.8 L119.2,506.6 L119.8,508.3 L120.4,511.1 L121.0,515.2 L121.6,518.4 L122.2,521.0 L122.8,524.9 L123.4,527.6 L124.0,529.7 L124.6,533.5 L125.2,536.4 L125.8,537.5 L126.4,539.2 L127.0,541.9 L127.6,543.5 L128.2,545.3 L128.8,546.9 L129.4,547.8 L130.0,548.7 L130.6,550.0 L131.2,551.1 L131.8,550.6 L132.4,551.0 L133.0,551.4 L133.6,551.7 L134.2,552.0 L134.8,552.2 L135.4,552.4 L136.0,552.6 L136.6,552.7 L137.2,552.9 L137.8,553.0 L138.4,553.1" stroke="#111" stroke-width="1.2" fill="none" stroke-linejoin="miter"/>
<rect x="129.8" y="500.59999999999997" width="4.0" height="3.3" fill="#2830b0" stroke="none" stroke-width="0" rx="1.2"/>
<rect x="129.8" y="504.7" width="4.0" height="3.3" fill="#b04a58" stroke="none" stroke-width="0" rx="1.2"/>
<rect x="129.8" y="508.79999999999995" width="4.0" height="3.3" fill="#000" stroke="none" stroke-width="0" rx="1.2"/>
<text x="141.3" y="506.9" font-size="6.3" text-anchor="start" font-weight="bold" font-family='"Liberation Serif", serif' fill="#222">LT/Kyn tTreg</text>
<text x="141.3" y="512.7" font-size="6.3" text-anchor="start" font-weight="bold" font-family='"Liberation Serif", serif' fill="#222">Teff</text>
<text x="141.3" y="519.0" font-size="6.3" text-anchor="start" font-weight="bold" font-family='"Liberation Serif", serif' fill="#222">tTreg</text>
<line x1="22.5" y1="558.7" x2="210.5" y2="558.7" stroke="#000" stroke-width="2"/>
<path d="M214.5,558.7 L208.5,555.7 L208.5,561.7 Z" fill="#000"/>
<text x="117" y="570.3" font-size="9.5" text-anchor="middle" font-weight="bold" font-family='"Liberation Serif", serif' fill="#000" stroke="#000" stroke-width="0.22">Helios</text>
<text x="203.4" y="15.3" font-size="13" text-anchor="middle" font-weight="bold" font-family='"Liberation Serif", serif' fill="#000" stroke="#000" stroke-width="0.22">D</text>
<text x="283.8" y="17.5" font-size="10.5" text-anchor="middle" font-weight="bold" font-family='"Liberation Serif", serif' fill="#000" stroke="#000" stroke-width="0.22">Basal</text>
<text x="450.2" y="16.3" font-size="10.5" text-anchor="middle" font-weight="bold" font-family='"Liberation Serif", serif' fill="#000" stroke="#000" stroke-width="0.22">Maximum</text>
<rect x="228.7" y="19.2" width="125.90000000000003" height="82.1" fill="none" stroke="#8a8a8a" stroke-width="1.2"/>
<text x="225.1" y="20.8" font-size="4.9" text-anchor="end" font-weight="normal" font-family='"Liberation Serif", serif' fill="#777">600</text>
<line x1="226.89999999999998" y1="19.2" x2="228.7" y2="19.2" stroke="#999" stroke-width="0.7"/>
<text x="225.1" y="34.483333333333334" font-size="4.9" text-anchor="end" font-weight="normal" font-family='"Liberation Serif", serif' fill="#777">500</text>
<line x1="226.89999999999998" y1="32.88333333333333" x2="228.7" y2="32.88333333333333" stroke="#999" stroke-width="0.7"/>
<text x="225.1" y="48.166666666666664" font-size="4.9" text-anchor="end" font-weight="normal" font-family='"Liberation Serif", serif' fill="#777">400</text>
<line x1="226.89999999999998" y1="46.56666666666666" x2="228.7" y2="46.56666666666666" stroke="#999" stroke-width="0.7"/>
<text x="225.1" y="61.85" font-size="4.9" text-anchor="end" font-weight="normal" font-family='"Liberation Serif", serif' fill="#777">300</text>
<line x1="226.89999999999998" y1="60.25" x2="228.7" y2="60.25" stroke="#999" stroke-width="0.7"/>
<text x="225.1" y="75.53333333333332" font-size="4.9" text-anchor="end" font-weight="normal" font-family='"Liberation Serif", serif' fill="#777">200</text>
<line x1="226.89999999999998" y1="73.93333333333332" x2="228.7" y2="73.93333333333332" stroke="#999" stroke-width="0.7"/>
<text x="225.1" y="89.21666666666667" font-size="4.9" text-anchor="end" font-weight="normal" font-family='"Liberation Serif", serif' fill="#777">100</text>
<line x1="226.89999999999998" y1="87.61666666666667" x2="228.7" y2="87.61666666666667" stroke="#999" stroke-width="0.7"/>
<text x="225.1" y="102.89999999999999" font-size="4.9" text-anchor="end" font-weight="normal" font-family='"Liberation Serif", serif' fill="#777">0</text>
<line x1="226.89999999999998" y1="101.3" x2="228.7" y2="101.3" stroke="#999" stroke-width="0.7"/>
<rect x="236.3" y="72.8" width="27.19999999999999" height="28.200000000000003" fill="#000" stroke="none" stroke-width="0"/>
<line x1="249.9" y1="72.8" x2="249.9" y2="69.0" stroke="#555" stroke-width="0.9"/>
<line x1="248.20000000000002" y1="69.0" x2="251.6" y2="69.0" stroke="#555" stroke-width="0.9"/>
<rect x="278.2" y="79.6" width="27.600000000000023" height="21.400000000000006" fill="#000" stroke="none" stroke-width="0"/>
<line x1="292.0" y1="79.6" x2="292.0" y2="78.5" stroke="#555" stroke-width="0.9"/>
<line x1="290.3" y1="78.5" x2="293.7" y2="78.5" stroke="#555" stroke-width="0.9"/>
<rect x="320.2" y="59.4" width="27.600000000000023" height="41.6" fill="#000" stroke="none" stroke-width="0"/>
<line x1="334.0" y1="59.4" x2="334.0" y2="56.4" stroke="#555" stroke-width="0.9"/>
<line x1="332.3" y1="56.4" x2="335.7" y2="56.4" stroke="#555" stroke-width="0.9"/>
<line x1="262.6" y1="30.4" x2="319" y2="30.4" stroke="#aaa" stroke-width="0.9"/>
<text x="290.8" y="25.799999999999997" font-size="4.2" text-anchor="middle" font-weight="normal" font-family='"Liberation Serif", serif' fill="#666">P = 0.00</text>
<line x1="297.5" y1="46.7" x2="319.5" y2="46.7" stroke="#aaa" stroke-width="0.9"/>
<text x="308.5" y="42.1" font-size="4.2" text-anchor="middle" font-weight="normal" font-family='"Liberation Serif", serif' fill="#666">P = 0.01</text>
<text x="212.4" y="81.9" font-size="8.4" text-anchor="middle" font-weight="bold" font-family='"Liberation Serif", serif' fill="#000" stroke="#000" stroke-width="0.22" transform="rotate(-90 212.4 81.9)">OCR</text>
<text x="212.4" y="50.1" font-size="8.0" text-anchor="middle" font-weight="bold" font-family='"Liberation Serif", serif' fill="#000" stroke="#000" stroke-width="0.22" transform="rotate(-90 212.4 50.1)">(t=10 min.)</text>
<rect x="385.2" y="19.6" width="124.30000000000001" height="81.4" fill="none" stroke="#8a8a8a" stroke-width="1.2"/>
<text x="381.59999999999997" y="21.200000000000003" font-size="4.9" text-anchor="end" font-weight="normal" font-family='"Liberation Serif", serif' fill="#777">600</text>
<line x1="383.4" y1="19.6" x2="385.2" y2="19.6" stroke="#999" stroke-width="0.7"/>
<text x="381.59999999999997" y="34.76666666666667" font-size="4.9" text-anchor="end" font-weight="normal" font-family='"Liberation Serif", serif' fill="#777">500</text>
<line x1="383.4" y1="33.16666666666667" x2="385.2" y2="33.16666666666667" stroke="#999" stroke-width="0.7"/>
<text x="381.59999999999997" y="48.333333333333336" font-size="4.9" text-anchor="end" font-weight="normal" font-family='"Liberation Serif", serif' fill="#777">400</text>
<line x1="383.4" y1="46.733333333333334" x2="385.2" y2="46.733333333333334" stroke="#999" stroke-width="0.7"/>
<text x="381.59999999999997" y="61.900000000000006" font-size="4.9" text-anchor="end" font-weight="normal" font-family='"Liberation Serif", serif' fill="#777">300</text>
<line x1="383.4" y1="60.300000000000004" x2="385.2" y2="60.300000000000004" stroke="#999" stroke-width="0.7"/>
<text x="381.59999999999997" y="75.46666666666667" font-size="4.9" text-anchor="end" font-weight="normal" font-family='"Liberation Serif", serif' fill="#777">200</text>
<line x1="383.4" y1="73.86666666666667" x2="385.2" y2="73.86666666666667" stroke="#999" stroke-width="0.7"/>
<text x="381.59999999999997" y="89.03333333333333" font-size="4.9" text-anchor="end" font-weight="normal" font-family='"Liberation Serif", serif' fill="#777">100</text>
<line x1="383.4" y1="87.43333333333334" x2="385.2" y2="87.43333333333334" stroke="#999" stroke-width="0.7"/>
<text x="381.59999999999997" y="102.6" font-size="4.9" text-anchor="end" font-weight="normal" font-family='"Liberation Serif", serif' fill="#777">0</text>
<line x1="383.4" y1="101.0" x2="385.2" y2="101.0" stroke="#999" stroke-width="0.7"/>
<rect x="392.6" y="57.0" width="27.599999999999966" height="43.7" fill="#000" stroke="none" stroke-width="0"/>
<line x1="406.4" y1="57.0" x2="406.4" y2="54.0" stroke="#555" stroke-width="0.9"/>
<line x1="404.7" y1="54.0" x2="408.09999999999997" y2="54.0" stroke="#555" stroke-width="0.9"/>
<rect x="433.9" y="79.8" width="27.400000000000034" height="20.900000000000006" fill="#000" stroke="none" stroke-width="0"/>
<line x1="447.6" y1="79.8" x2="447.6" y2="76.2" stroke="#555" stroke-width="0.9"/>
<line x1="445.90000000000003" y1="76.2" x2="449.3" y2="76.2" stroke="#555" stroke-width="0.9"/>
<rect x="475.6" y="40.6" width="26.899999999999977" height="60.1" fill="#000" stroke="none" stroke-width="0"/>
<line x1="489.05" y1="40.6" x2="489.05" y2="34.3" stroke="#555" stroke-width="0.9"/>
<line x1="487.35" y1="34.3" x2="490.75" y2="34.3" stroke="#555" stroke-width="0.9"/>
<line x1="417" y1="33.0" x2="473" y2="33.0" stroke="#aaa" stroke-width="0.9"/>
<text x="445.0" y="28.4" font-size="4.2" text-anchor="middle" font-weight="normal" font-family='"Liberation Serif", serif' fill="#666">P = 0.02</text>
<line x1="423.2" y1="59.6" x2="444.5" y2="59.6" stroke="#aaa" stroke-width="0.9"/>
<text x="433.85" y="55.0" font-size="4.2" text-anchor="middle" font-weight="normal" font-family='"Liberation Serif", serif' fill="#666">P = 0.01</text>
<line x1="450.2" y1="50.8" x2="470.8" y2="50.8" stroke="#aaa" stroke-width="0.9"/>
<text x="460.5" y="46.199999999999996" font-size="4.2" text-anchor="middle" font-weight="normal" font-family='"Liberation Serif", serif' fill="#666">P = 0.01</text>
<text x="368.9" y="81.6" font-size="8.2" text-anchor="middle" font-weight="bold" font-family='"Liberation Serif", serif' fill="#000" stroke="#000" stroke-width="0.22" transform="rotate(-90 368.9 81.6)">OCR</text>
<text x="368.6" y="50.1" font-size="8.3" text-anchor="middle" font-weight="normal" font-family='"Liberation Serif", serif' fill="#111" transform="rotate(-90 368.6 50.1)">(t=60 min.)</text>
<rect x="228.3" y="109.7" width="127.30000000000001" height="89.49999999999999" fill="none" stroke="#8a8a8a" stroke-width="1.2"/>
<text x="224.70000000000002" y="111.3" font-size="4.9" text-anchor="end" font-weight="normal" font-family='"Liberation Serif", serif' fill="#777">45</text>
<line x1="226.5" y1="109.7" x2="228.3" y2="109.7" stroke="#999" stroke-width="0.7"/>
<text x="224.70000000000002" y="121.24444444444444" font-size="4.9" text-anchor="end" font-weight="normal" font-family='"Liberation Serif", serif' fill="#777">40</text>
<line x1="226.5" y1="119.64444444444445" x2="228.3" y2="119.64444444444445" stroke="#999" stroke-width="0.7"/>
<text x="224.70000000000002" y="131.1888888888889" font-size="4.9" text-anchor="end" font-weight="normal" font-family='"Liberation Serif", serif' fill="#777">35</text>
<line x1="226.5" y1="129.5888888888889" x2="228.3" y2="129.5888888888889" stroke="#999" stroke-width="0.7"/>
<text x="224.70000000000002" y="141.13333333333333" font-size="4.9" text-anchor="end" font-weight="normal" font-family='"Liberation Serif", serif' fill="#777">30</text>
<line x1="226.5" y1="139.53333333333333" x2="228.3" y2="139.53333333333333" stroke="#999" stroke-width="0.7"/>
<text x="224.70000000000002" y="151.07777777777775" font-size="4.9" text-anchor="end" font-weight="normal" font-family='"Liberation Serif", serif' fill="#777">25</text>
<line x1="226.5" y1="149.47777777777776" x2="228.3" y2="149.47777777777776" stroke="#999" stroke-width="0.7"/>
<text x="224.70000000000002" y="161.0222222222222" font-size="4.9" text-anchor="end" font-weight="normal" font-family='"Liberation Serif", serif' fill="#777">20</text>
<line x1="226.5" y1="159.42222222222222" x2="228.3" y2="159.42222222222222" stroke="#999" stroke-width="0.7"/>
<text x="224.70000000000002" y="170.96666666666667" font-size="4.9" text-anchor="end" font-weight="normal" font-family='"Liberation Serif", serif' fill="#777">15</text>
<line x1="226.5" y1="169.36666666666667" x2="228.3" y2="169.36666666666667" stroke="#999" stroke-width="0.7"/>
<text x="224.70000000000002" y="180.9111111111111" font-size="4.9" text-anchor="end" font-weight="normal" font-family='"Liberation Serif", serif' fill="#777">10</text>
<line x1="226.5" y1="179.3111111111111" x2="228.3" y2="179.3111111111111" stroke="#999" stroke-width="0.7"/>
<text x="224.70000000000002" y="190.85555555555553" font-size="4.9" text-anchor="end" font-weight="normal" font-family='"Liberation Serif", serif' fill="#777">5</text>
<line x1="226.5" y1="189.25555555555553" x2="228.3" y2="189.25555555555553" stroke="#999" stroke-width="0.7"/>
<text x="224.70000000000002" y="200.79999999999998" font-size="4.9" text-anchor="end" font-weight="normal" font-family='"Liberation Serif", serif' fill="#777">0</text>
<line x1="226.5" y1="199.2" x2="228.3" y2="199.2" stroke="#999" stroke-width="0.7"/>
<rect x="236.4" y="172.9" width="27.799999999999983" height="26.0" fill="#000" stroke="none" stroke-width="0"/>
<line x1="250.3" y1="172.9" x2="250.3" y2="172.4" stroke="#555" stroke-width="0.9"/>
<line x1="248.60000000000002" y1="172.4" x2="252.0" y2="172.4" stroke="#555" stroke-width="0.9"/>
<rect x="278.3" y="174.2" width="27.69999999999999" height="24.700000000000017" fill="#000" stroke="none" stroke-width="0"/>
<line x1="292.15" y1="174.2" x2="292.15" y2="169.3" stroke="#555" stroke-width="0.9"/>
<line x1="290.45" y1="169.3" x2="293.84999999999997" y2="169.3" stroke="#555" stroke-width="0.9"/>
<rect x="320.5" y="159.6" width="28.30000000000001" height="39.30000000000001" fill="#000" stroke="none" stroke-width="0"/>
<line x1="334.65" y1="159.6" x2="334.65" y2="151.1" stroke="#555" stroke-width="0.9"/>
<line x1="332.95" y1="151.1" x2="336.34999999999997" y2="151.1" stroke="#555" stroke-width="0.9"/>
<text x="214.8" y="175.45" font-size="7.8" text-anchor="middle" font-weight="bold" font-family='"Liberation Serif", serif' fill="#000" stroke="#000" stroke-width="0.22" transform="rotate(-90 214.8 175.45)">ECAR</text>
<text x="214.8" y="140.7" font-size="8.3" text-anchor="middle" font-weight="bold" font-family='"Liberation Serif", serif' fill="#000" stroke="#000" stroke-width="0.22" transform="rotate(-90 214.8 140.7)">(t=10 min.)</text>
<text x="246.9" y="208.0" font-size="7.7" text-anchor="middle" font-weight="bold" font-family='"Liberation Serif", serif' fill="#000" stroke="#000" stroke-width="0.22">tTreg</text>
<text x="291.5" y="208.0" font-size="7.7" text-anchor="middle" font-weight="bold" font-family='"Liberation Serif", serif' fill="#000" stroke="#000" stroke-width="0.22">Teff</text>
<text x="333.1" y="208.0" font-size="7.7" text-anchor="middle" font-weight="bold" font-family='"Liberation Serif", serif' fill="#000" stroke="#000" stroke-width="0.22">Low Trp</text>
<text x="334.5" y="217.0" font-size="7.7" text-anchor="middle" font-weight="bold" font-family='"Liberation Serif", serif' fill="#000" stroke="#000" stroke-width="0.22">+ Kyn</text>
<rect x="385.2" y="109.9" width="125.60000000000002" height="89.1" fill="none" stroke="#8a8a8a" stroke-width="1.2"/>
<text x="381.59999999999997" y="111.5" font-size="4.9" text-anchor="end" font-weight="normal" font-family='"Liberation Serif", serif' fill="#777">45</text>
<line x1="383.4" y1="109.9" x2="385.2" y2="109.9" stroke="#999" stroke-width="0.7"/>
<text x="381.59999999999997" y="121.4" font-size="4.9" text-anchor="end" font-weight="normal" font-family='"Liberation Serif", serif' fill="#777">40</text>
<line x1="383.4" y1="119.80000000000001" x2="385.2" y2="119.80000000000001" stroke="#999" stroke-width="0.7"/>
<text x="381.59999999999997" y="131.29999999999998" font-size="4.9" text-anchor="end" font-weight="normal" font-family='"Liberation Serif", serif' fill="#777">35</text>
<line x1="383.4" y1="129.7" x2="385.2" y2="129.7" stroke="#999" stroke-width="0.7"/>
<text x="381.59999999999997" y="141.2" font-size="4.9" text-anchor="end" font-weight="normal" font-family='"Liberation Serif", serif' fill="#777">30</text>
<line x1="383.4" y1="139.6" x2="385.2" y2="139.6" stroke="#999" stroke-width="0.7"/>
<text x="381.59999999999997" y="151.1" font-size="4.9" text-anchor="end" font-weight="normal" font-family='"Liberation Serif", serif' fill="#777">25</text>
<line x1="383.4" y1="149.5" x2="385.2" y2="149.5" stroke="#999" stroke-width="0.7"/>
<text x="381.59999999999997" y="161.0" font-size="4.9" text-anchor="end" font-weight="normal" font-family='"Liberation Serif", serif' fill="#777">20</text>
<line x1="383.4" y1="159.4" x2="385.2" y2="159.4" stroke="#999" stroke-width="0.7"/>
<text x="381.59999999999997" y="170.9" font-size="4.9" text-anchor="end" font-weight="normal" font-family='"Liberation Serif", serif' fill="#777">15</text>
<line x1="383.4" y1="169.3" x2="385.2" y2="169.3" stroke="#999" stroke-width="0.7"/>
<text x="381.59999999999997" y="180.79999999999998" font-size="4.9" text-anchor="end" font-weight="normal" font-family='"Liberation Serif", serif' fill="#777">10</text>
<line x1="383.4" y1="179.2" x2="385.2" y2="179.2" stroke="#999" stroke-width="0.7"/>
<text x="381.59999999999997" y="190.7" font-size="4.9" text-anchor="end" font-weight="normal" font-family='"Liberation Serif", serif' fill="#777">5</text>
<line x1="383.4" y1="189.1" x2="385.2" y2="189.1" stroke="#999" stroke-width="0.7"/>
<text x="381.59999999999997" y="200.6" font-size="4.9" text-anchor="end" font-weight="normal" font-family='"Liberation Serif", serif' fill="#777">0</text>
<line x1="383.4" y1="199.0" x2="385.2" y2="199.0" stroke="#999" stroke-width="0.7"/>
<rect x="392.5" y="119.2" width="28.30000000000001" height="79.49999999999999" fill="#000" stroke="none" stroke-width="0"/>
<line x1="406.65" y1="119.2" x2="406.65" y2="115.5" stroke="#555" stroke-width="0.9"/>
<line x1="404.95" y1="115.5" x2="408.34999999999997" y2="115.5" stroke="#555" stroke-width="0.9"/>
<rect x="435.0" y="170.5" width="28.80000000000001" height="28.19999999999999" fill="#000" stroke="none" stroke-width="0"/>
<line x1="449.4" y1="170.5" x2="449.4" y2="166.0" stroke="#555" stroke-width="0.9"/>
<line x1="447.7" y1="166.0" x2="451.09999999999997" y2="166.0" stroke="#555" stroke-width="0.9"/>
<rect x="478.0" y="137.5" width="28.19999999999999" height="61.19999999999999" fill="#000" stroke="none" stroke-width="0"/>
<line x1="492.1" y1="137.5" x2="492.1" y2="133.5" stroke="#555" stroke-width="0.9"/>
<line x1="490.40000000000003" y1="133.5" x2="493.8" y2="133.5" stroke="#555" stroke-width="0.9"/>
<line x1="426.2" y1="121.7" x2="483.0" y2="121.7" stroke="#aaa" stroke-width="0.9"/>
<text x="462.5" y="116.6" font-size="4.2" text-anchor="middle" font-weight="normal" font-family='"Liberation Serif", serif' fill="#666">P = 0.0001</text>
<line x1="426.2" y1="153.0" x2="449.5" y2="153.0" stroke="#aaa" stroke-width="0.9"/>
<text x="436.3" y="147.6" font-size="4.2" text-anchor="middle" font-weight="normal" font-family='"Liberation Serif", serif' fill="#666">P &lt; 0.001</text>
<line x1="453.8" y1="141.7" x2="475.0" y2="141.7" stroke="#aaa" stroke-width="0.9"/>
<text x="463.3" y="136.4" font-size="4.2" text-anchor="middle" font-weight="normal" font-family='"Liberation Serif", serif' fill="#666">P = 0.0003</text>
<text x="372.2" y="175.8" font-size="7.8" text-anchor="middle" font-weight="bold" font-family='"Liberation Serif", serif' fill="#000" stroke="#000" stroke-width="0.22" transform="rotate(-90 372.2 175.8)">ECAR</text>
<text x="372.2" y="141.2" font-size="8.3" text-anchor="middle" font-weight="normal" font-family='"Liberation Serif", serif' fill="#111" transform="rotate(-90 372.2 141.2)">(t=60 min.)</text>
<text x="405.0" y="208.0" font-size="7.7" text-anchor="middle" font-weight="bold" font-family='"Liberation Serif", serif' fill="#000" stroke="#000" stroke-width="0.22">tTreg</text>
<text x="449.0" y="208.0" font-size="7.7" text-anchor="middle" font-weight="bold" font-family='"Liberation Serif", serif' fill="#000" stroke="#000" stroke-width="0.22">Teff</text>
<text x="491.6" y="208.0" font-size="7.7" text-anchor="middle" font-weight="bold" font-family='"Liberation Serif", serif' fill="#000" stroke="#000" stroke-width="0.22">Low Trp</text>
<text x="491.6" y="217.0" font-size="7.7" text-anchor="middle" font-weight="bold" font-family='"Liberation Serif", serif' fill="#000" stroke="#000" stroke-width="0.22">+ Kyn</text>
<text x="226.5" y="242.4" font-size="12.5" text-anchor="middle" font-weight="bold" font-family='"Liberation Serif", serif' fill="#000" stroke="#000" stroke-width="0.22">E</text>
<line x1="253.9" y1="228.8" x2="263.8" y2="228.8" stroke="#222" stroke-width="1.2"/>
<path d="M257.6,229.20000000000002 L258.9,227.4 L260.2,229.20000000000002 Z" fill="#222"/>
<text x="268" y="231.10000000000002" font-size="6.55" text-anchor="start" font-weight="normal" font-family='"Liberation Sans", sans-serif' fill="#484848">PBMC only</text>
<line x1="253.9" y1="238.2" x2="263.8" y2="238.2" stroke="#c83848" stroke-width="1.2"/>
<path d="M257.6,238.6 L258.9,236.79999999999998 L260.2,238.6 Z" fill="#c83848"/>
<text x="268" y="240.5" font-size="6.55" text-anchor="start" font-weight="normal" font-family='"Liberation Sans", sans-serif' fill="#484848">PBMC + nTreg</text>
<line x1="253.9" y1="248.5" x2="263.8" y2="248.5" stroke="#d8b070" stroke-width="1.2"/>
<path d="M257.6,248.9 L258.9,247.1 L260.2,248.9 Z" fill="#d8b070"/>
<text x="268" y="250.8" font-size="6.55" text-anchor="start" font-weight="normal" font-family='"Liberation Sans", sans-serif' fill="#484848">PBMC + LowTryp/Kyn</text>
<line x1="253.9" y1="258.1" x2="263.8" y2="258.1" stroke="#683890" stroke-width="1.2"/>
<path d="M257.6,258.5 L258.9,256.70000000000005 L260.2,258.5 Z" fill="#683890"/>
<text x="268" y="260.40000000000003" font-size="6.55" text-anchor="start" font-weight="normal" font-family='"Liberation Sans", sans-serif' fill="#484848">PBMC + LowTryp/Kyn + IL-2</text>
<line x1="255" y1="268.5" x2="255" y2="368" stroke="#222" stroke-width="1.1"/>
<line x1="254.5" y1="367.5" x2="375.5" y2="367.5" stroke="#222" stroke-width="1.1"/>
<line x1="253" y1="268.8" x2="255" y2="268.8" stroke="#000" stroke-width="0.6"/>
<text x="251.5" y="270.1" font-size="3.6" text-anchor="end" font-weight="normal" font-family='"Liberation Sans", sans-serif' fill="#555">100</text>
<line x1="253" y1="288.54" x2="255" y2="288.54" stroke="#000" stroke-width="0.6"/>
<text x="251.5" y="289.84000000000003" font-size="3.6" text-anchor="end" font-weight="normal" font-family='"Liberation Sans", sans-serif' fill="#555">80</text>
<line x1="253" y1="308.28000000000003" x2="255" y2="308.28000000000003" stroke="#000" stroke-width="0.6"/>
<text x="251.5" y="309.58000000000004" font-size="3.6" text-anchor="end" font-weight="normal" font-family='"Liberation Sans", sans-serif' fill="#555">60</text>
<line x1="253" y1="328.02" x2="255" y2="328.02" stroke="#000" stroke-width="0.6"/>
<text x="251.5" y="329.32" font-size="3.6" text-anchor="end" font-weight="normal" font-family='"Liberation Sans", sans-serif' fill="#555">40</text>
<line x1="253" y1="347.76" x2="255" y2="347.76" stroke="#000" stroke-width="0.6"/>
<text x="251.5" y="349.06" font-size="3.6" text-anchor="end" font-weight="normal" font-family='"Liberation Sans", sans-serif' fill="#555">20</text>
<line x1="253" y1="367.5" x2="255" y2="367.5" stroke="#000" stroke-width="0.6"/>
<text x="251.5" y="368.8" font-size="3.6" text-anchor="end" font-weight="normal" font-family='"Liberation Sans", sans-serif' fill="#555">0</text>
<path d="M255.0,268.8 L298.5,268.8 L298.5,293.5 L309.7,293.5 L309.7,355.2 L315.7,355.2 L315.7,367.5 L316.0,367.5" stroke="#e8c070" stroke-width="1.1" fill="none" stroke-linejoin="miter"/>
<path d="M255.0,268.8 L295.2,268.8 L295.2,282.9 L300.0,282.9 L300.0,297.0 L310.4,297.0 L310.4,325.2 L317.2,325.2 L317.2,339.3 L323.0,339.3 L323.0,353.4 L338.2,353.4 L338.2,367.5 L338.5,367.5" stroke="#222" stroke-width="1.1" fill="none" stroke-linejoin="miter"/>
<path d="M255.0,268.8 L311.8,268.8 L311.8,318.1 L318.4,318.1 L318.4,342.8 L333.9,342.8 L333.9,355.2 L366.5,355.2 L366.5,367.5 L366.8,367.5" stroke="#6048a8" stroke-width="1.1" fill="none" stroke-linejoin="miter"/>
<path d="M255.0,268.8 L338.2,268.8 L338.2,282.9 L344.8,282.9 L344.8,297.0 L360.0,297.0 L360.0,325.2 L375.5,325.2" stroke="#cc4458" stroke-width="1.1" fill="none" stroke-linejoin="miter"/>
<text x="253.7" y="383.6" font-size="9" text-anchor="middle" font-weight="bold" font-family='"Liberation Serif", serif' fill="#000" stroke="#000" stroke-width="0.22">0</text>
<text x="315.8" y="383.6" font-size="9" text-anchor="middle" font-weight="bold" font-family='"Liberation Serif", serif' fill="#000" stroke="#000" stroke-width="0.22">20</text>
<text x="376.7" y="383.6" font-size="9" text-anchor="middle" font-weight="bold" font-family='"Liberation Serif", serif' fill="#000" stroke="#000" stroke-width="0.22">40</text>
<text x="315.2" y="395.8" font-size="11" text-anchor="middle" font-weight="bold" font-family='"Liberation Serif", serif' fill="#000" stroke="#000" stroke-width="0.22">Day</text>
<text x="238.9" y="315.6" font-size="11.6" text-anchor="middle" font-weight="bold" font-family='"Liberation Serif", serif' fill="#000" stroke="#000" stroke-width="0.22" transform="rotate(-90 238.9 315.6)">% survival</text>
<rect x="412.7" y="257.8" width="98.1" height="105.1" fill="none" stroke="#8a8a8a" stroke-width="1.1"/>
<text x="407.4" y="261.59999999999997" font-size="7.8" text-anchor="end" font-weight="normal" font-family='"Liberation Serif", serif' fill="#555">200</text>
<line x1="410.8" y1="258.9" x2="412.7" y2="258.9" stroke="#999" stroke-width="0.8"/>
<text x="407.4" y="287.59999999999997" font-size="7.8" text-anchor="end" font-weight="normal" font-family='"Liberation Serif", serif' fill="#555">150</text>
<line x1="410.8" y1="284.9" x2="412.7" y2="284.9" stroke="#999" stroke-width="0.8"/>
<text x="407.4" y="313.59999999999997" font-size="7.8" text-anchor="end" font-weight="normal" font-family='"Liberation Serif", serif' fill="#555">100</text>
<line x1="410.8" y1="310.9" x2="412.7" y2="310.9" stroke="#999" stroke-width="0.8"/>
<text x="407.4" y="339.59999999999997" font-size="7.8" text-anchor="end" font-weight="normal" font-family='"Liberation Serif", serif' fill="#555">50</text>
<line x1="410.8" y1="336.9" x2="412.7" y2="336.9" stroke="#999" stroke-width="0.8"/>
<text x="407.4" y="365.59999999999997" font-size="7.8" text-anchor="end" font-weight="normal" font-family='"Liberation Serif", serif' fill="#555">0</text>
<line x1="410.8" y1="362.9" x2="412.7" y2="362.9" stroke="#999" stroke-width="0.8"/>
<text x="390.5" y="303" font-size="9.3" text-anchor="middle" font-weight="bold" font-family='"Liberation Serif", serif' fill="#000" stroke="#000" stroke-width="0.22" transform="rotate(-90 390.5 303)">Treg in blood</text>
<rect x="416.8" y="361.8" width="15.899999999999977" height="1.099999999999966" fill="#000" stroke="none" stroke-width="0"/>
<rect x="441.1" y="334.5" width="16.19999999999999" height="28.100000000000023" fill="#000" stroke="none" stroke-width="0"/>
<line x1="449.20000000000005" y1="334.5" x2="449.20000000000005" y2="329.5" stroke="#000" stroke-width="1"/>
<line x1="446.6" y1="329.5" x2="451.80000000000007" y2="329.5" stroke="#000" stroke-width="1"/>
<rect x="464.8" y="328.9" width="16.69999999999999" height="33.700000000000045" fill="#000" stroke="none" stroke-width="0"/>
<line x1="473.15" y1="328.9" x2="473.15" y2="321.1" stroke="#000" stroke-width="1"/>
<line x1="470.54999999999995" y1="321.1" x2="475.75" y2="321.1" stroke="#000" stroke-width="1"/>
<rect x="489.3" y="293.8" width="16.80000000000001" height="68.80000000000001" fill="#000" stroke="none" stroke-width="0"/>
<line x1="497.7" y1="293.8" x2="497.7" y2="283.0" stroke="#999" stroke-width="1"/>
<line x1="495.4" y1="283.0" x2="500.0" y2="283.0" stroke="#999" stroke-width="1"/>
<path d="M448.8,283.3 L448.8,278.7 L498.5,278.7 L498.5,283.3" stroke="#000" stroke-width="1.6" fill="none" stroke-linejoin="miter"/>
<text x="473.5" y="277" font-size="9.3" text-anchor="middle" font-weight="bold" font-family='"Liberation Serif", serif' fill="#000" stroke="#000" stroke-width="0.22">p&lt; 0.005</text>
<path d="M469.5,305.0 L469.5,301.0 L489.3,301.0 L489.3,305.0" stroke="#000" stroke-width="1.6" fill="none" stroke-linejoin="miter"/>
<text x="488.4" y="298.2" font-size="9.3" text-anchor="end" font-weight="bold" font-family='"Liberation Serif", serif' fill="#000" stroke="#000" stroke-width="0.22"><tspan font-size="8" fill="#444">p&lt;</tspan> 0.02</text>
<text x="429.5" y="371.5" font-size="8.3" text-anchor="end" font-weight="bold" font-family='"Liberation Serif", serif' fill="#000" stroke="#000" stroke-width="0.22" transform="rotate(-45 429.5 371.5)">PBMC</text>
<text x="446" y="371.5" font-size="8.3" text-anchor="end" font-weight="bold" font-family='"Liberation Serif", serif' fill="#000" stroke="#000" stroke-width="0.22" transform="rotate(-45 446 371.5)">tTreg</text>
<text x="470" y="368.5" font-size="8.3" text-anchor="end" font-weight="bold" font-family='"Liberation Serif", serif' fill="#000" stroke="#000" stroke-width="0.22" transform="rotate(-45 470 368.5)">Low Trp</text>
<text x="476.5" y="378" font-size="8.3" text-anchor="end" font-weight="bold" font-family='"Liberation Serif", serif' fill="#000" stroke="#000" stroke-width="0.22" transform="rotate(-45 476.5 378)">+ Kyn</text>
<text x="497.5" y="368.5" font-size="8.3" text-anchor="end" font-weight="bold" font-family='"Liberation Serif", serif' fill="#000" stroke="#000" stroke-width="0.22" transform="rotate(-45 497.5 368.5)">Low Trp</text>
<text x="509" y="370" font-size="8.3" text-anchor="end" font-weight="bold" font-family='"Liberation Serif", serif' fill="#000" stroke="#000" stroke-width="0.22" transform="rotate(-45 509 370)">+ Kyn + IL-2</text>
<text x="225.2" y="429.3" font-size="12" text-anchor="middle" font-weight="bold" font-family='"Liberation Serif", serif' fill="#000" stroke="#000" stroke-width="0.22">F</text>
<line x1="272.7" y1="425.3" x2="272.7" y2="541.0" stroke="#000" stroke-width="1.3"/>
<line x1="272.0" y1="540.3" x2="505.0" y2="540.3" stroke="#000" stroke-width="1.3"/>
<line x1="268.6" y1="425.69999999999993" x2="272.7" y2="425.69999999999993" stroke="#000" stroke-width="1"/>
<text x="267.4" y="428.69999999999993" font-size="8.4" text-anchor="end" font-weight="normal" font-family='"Liberation Sans", sans-serif' fill="#333">100</text>
<line x1="268.6" y1="482.99999999999994" x2="272.7" y2="482.99999999999994" stroke="#000" stroke-width="1"/>
<text x="267.4" y="485.99999999999994" font-size="8.4" text-anchor="end" font-weight="normal" font-family='"Liberation Sans", sans-serif' fill="#333">50</text>
<line x1="268.6" y1="540.3" x2="272.7" y2="540.3" stroke="#000" stroke-width="1"/>
<text x="267.4" y="543.3" font-size="8.4" text-anchor="end" font-weight="normal" font-family='"Liberation Sans", sans-serif' fill="#333">0</text>
<line x1="272.6" y1="540.3" x2="272.6" y2="543.8" stroke="#000" stroke-width="1"/>
<text x="272.6" y="552.6" font-size="8.4" text-anchor="middle" font-weight="normal" font-family='"Liberation Sans", sans-serif' fill="#333">0</text>
<line x1="315.68" y1="540.3" x2="315.68" y2="543.8" stroke="#000" stroke-width="1"/>
<text x="315.68" y="552.6" font-size="8.4" text-anchor="middle" font-weight="normal" font-family='"Liberation Sans", sans-serif' fill="#333">5</text>
<line x1="358.76" y1="540.3" x2="358.76" y2="543.8" stroke="#000" stroke-width="1"/>
<text x="358.76" y="552.6" font-size="8.4" text-anchor="middle" font-weight="normal" font-family='"Liberation Sans", sans-serif' fill="#333">10</text>
<line x1="401.84000000000003" y1="540.3" x2="401.84000000000003" y2="543.8" stroke="#000" stroke-width="1"/>
<text x="401.84000000000003" y="552.6" font-size="8.4" text-anchor="middle" font-weight="normal" font-family='"Liberation Sans", sans-serif' fill="#333">15</text>
<line x1="444.92" y1="540.3" x2="444.92" y2="543.8" stroke="#000" stroke-width="1"/>
<text x="444.92" y="552.6" font-size="8.4" text-anchor="middle" font-weight="normal" font-family='"Liberation Sans", sans-serif' fill="#333">20</text>
<line x1="488.0" y1="540.3" x2="488.0" y2="543.8" stroke="#000" stroke-width="1"/>
<text x="488.0" y="552.6" font-size="8.4" text-anchor="middle" font-weight="normal" font-family='"Liberation Sans", sans-serif' fill="#333">25</text>
<text x="388.8" y="572.7" font-size="15" text-anchor="middle" font-weight="bold" font-family='"Liberation Serif", serif' fill="#000" stroke="#000" stroke-width="0.22">Day</text>
<text x="243.2" y="480.4" font-size="14.7" text-anchor="middle" font-weight="bold" font-family='"Liberation Serif", serif' fill="#000" stroke="#000" stroke-width="0.22" transform="rotate(-90 243.2 480.4)">% survival</text>
<path d="M272.7,425.1 L404.0,425.1 L404.0,511.6 L429.4,511.6 L429.4,540.3 L429.4,540.3" stroke="#e03030" stroke-width="1.5" fill="none" stroke-linejoin="miter"/>
<path d="M272.7,424.2 L405.3,424.2 L405.3,438.8 L422.5,438.8 L422.5,453.1 L431.1,453.1 L431.1,481.8 L448.8,481.8 L448.8,496.1 L466.5,496.1 L466.5,510.4 L505.2,510.4" stroke="#e8a030" stroke-width="1.5" fill="none" stroke-linejoin="miter"/>
<path d="M272.7,426.9 L427.7,426.9 L427.7,439.5 L436.3,439.5 L436.3,453.8 L444.9,453.8 L444.9,468.2 L462.2,468.2 L462.2,482.5 L488.0,482.5 L488.0,496.8 L505.2,496.8" stroke="#111" stroke-width="1.5" fill="none" stroke-linejoin="miter"/>
<path d="M272.7,428.4 L385.5,428.4 L385.5,456.6 L401.8,456.6 L401.8,542.6 L401.8,542.6" stroke="#6a3c98" stroke-width="1.5" fill="none" stroke-linejoin="miter"/>
<path d="M272.7,426.8 L505.2,426.8" stroke="#4a9060" stroke-width="1.5" fill="none" stroke-linejoin="miter"/>
<path d="M270.8,424.2 L274.8,426.3 L270.8,428.4 Z" fill="#222288"/>
<line x1="277" y1="472.3" x2="290" y2="472.3" stroke="#111" stroke-width="1.4"/>
<path d="M282,472.8 L283.5,470.7 L285,472.8 Z" fill="#111"/>
<text x="294.6" y="475.3" font-size="8.1" text-anchor="start" font-weight="normal" font-family='"Liberation Sans", sans-serif' fill="#333">PBMC only</text>
<line x1="277" y1="483.5" x2="290" y2="483.5" stroke="#c84848" stroke-width="1.4"/>
<path d="M282,484.0 L283.5,481.9 L285,484.0 Z" fill="#c84848"/>
<text x="294.6" y="486.5" font-size="8.1" text-anchor="start" font-weight="normal" font-family='"Liberation Sans", sans-serif' fill="#333">PBMC + IL-2</text>
<line x1="277" y1="495.0" x2="290" y2="495.0" stroke="#4f9a55" stroke-width="1.4"/>
<path d="M282,495.5 L283.5,493.4 L285,495.5 Z" fill="#4f9a55"/>
<text x="294.6" y="498.0" font-size="8.1" text-anchor="start" font-weight="normal" font-family='"Liberation Sans", sans-serif' fill="#333">PBMC + nTreg</text>
<line x1="277" y1="507.0" x2="290" y2="507.0" stroke="#e8c060" stroke-width="1.4"/>
<path d="M282,507.5 L283.5,505.4 L285,507.5 Z" fill="#e8c060"/>
<text x="294.6" y="510.0" font-size="8.1" text-anchor="start" font-weight="normal" font-family='"Liberation Sans", sans-serif' fill="#333">PBMC + LowTryp/Kyn</text>
<line x1="277" y1="518.5" x2="290" y2="518.5" stroke="#7a50b0" stroke-width="1.4"/>
<path d="M282,519.0 L283.5,516.9 L285,519.0 Z" fill="#7a50b0"/>
<text x="294.6" y="521.5" font-size="8.1" text-anchor="start" font-weight="normal" font-family='"Liberation Sans", sans-serif' fill="#333">PBMC + LowTryp/Kyn + IL-2</text>
</svg>
</body></html>
